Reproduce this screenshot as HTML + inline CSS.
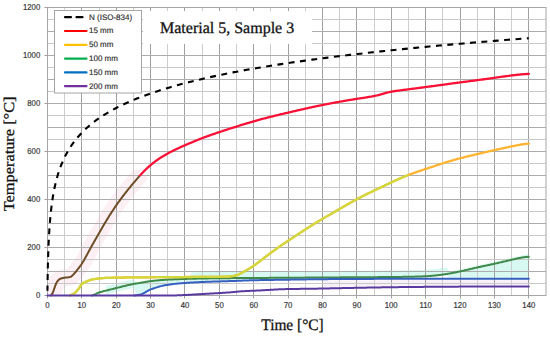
<!DOCTYPE html>
<html><head><meta charset="utf-8"><style>
html,body{margin:0;padding:0;background:#fff;width:550px;height:337px;overflow:hidden}
svg{display:block}
text{text-rendering:geometricPrecision}
.tl text{font-family:"Liberation Sans",sans-serif;font-size:8.6px;fill:#3a3a3a;stroke:#3a3a3a;stroke-width:0.2px}
.lg text{font-family:"Liberation Sans",sans-serif;font-size:8px;fill:#2a2a2a;stroke:#2a2a2a;stroke-width:0.15px}
.ttl{font-family:"Liberation Serif",serif;fill:#111;stroke:#111;stroke-width:0.3px}
</style></head><body>
<svg width="550" height="337" viewBox="0 0 550 337">
<defs><clipPath id="cp"><rect x="47.5" y="170" width="100" height="125.5"/></clipPath><clipPath id="cr2"><rect x="0" y="0" width="550" height="176"/></clipPath><clipPath id="cr"><rect x="0" y="176" width="550" height="200"/></clipPath><clipPath id="cy"><rect x="0" y="0" width="408.4" height="337"/></clipPath></defs>
<rect width="550" height="337" fill="#fff"/>
<path d="M105.9,286.1 L109.3,285.3 L112.8,284.4 L116.2,283.6 L119.6,282.7 L123.1,281.8 L126.5,281.0 L130.0,280.2 L133.4,279.5 L136.8,282.4 L140.3,281.9 L143.7,281.3 L147.2,280.6 L150.6,280.1 L154.0,279.7 L157.5,279.4 L160.9,279.1 L164.3,278.9 L167.8,278.7 L171.2,278.5 L174.7,278.3 L178.1,278.2 L181.5,278.0 L185.0,277.9 L188.4,277.8 L191.8,272.2 L195.3,272.2 L198.7,272.1 L202.2,272.0 L205.6,271.9 L209.0,271.9 L212.5,271.8 L215.9,271.8 L219.4,271.7 L222.8,271.7 L226.2,271.7 L229.7,271.6 L233.1,271.6 L236.5,271.6 L240.0,271.6 L243.4,271.5 L246.9,271.5 L250.3,271.5 L253.7,271.5 L257.2,271.5 L260.6,271.4 L264.0,271.4 L267.5,271.4 L270.9,271.4 L274.4,271.3 L277.8,271.3 L281.2,271.3 L284.7,271.3 L288.1,271.2 L291.5,271.2 L295.0,271.2 L298.4,271.2 L301.9,271.1 L305.3,271.1 L308.7,271.1 L312.2,271.1 L315.6,271.0 L319.1,271.0 L322.5,271.0 L325.9,271.0 L329.4,271.0 L332.8,270.9 L336.2,270.9 L339.7,270.9 L343.1,270.9 L346.6,270.8 L350.0,270.8 L353.4,270.8 L356.9,270.8 L360.3,270.7 L363.7,270.7 L367.2,270.7 L370.6,270.7 L374.1,270.7 L377.5,270.6 L380.9,270.6 L384.4,270.6 L387.8,270.6 L391.2,270.5 L394.7,270.5 L398.1,270.4 L401.6,270.4 L405.0,270.3 L408.4,270.3 L411.9,270.2 L415.3,270.1 L418.8,270.0 L422.2,269.9 L425.6,269.8 L429.1,269.6 L432.5,269.3 L435.9,269.0 L439.4,268.6 L442.8,268.1 L446.3,267.6 L449.7,271.5 L453.1,270.9 L456.6,270.2 L460.0,269.5 L463.4,268.7 L466.9,267.9 L470.3,267.1 L473.8,266.2 L477.2,265.4 L480.6,264.7 L484.1,264.0 L487.5,263.3 L491.0,262.6 L494.4,261.8 L497.8,261.0 L501.3,260.2 L504.7,259.4 L508.1,258.5 L511.6,257.7 L515.0,257.0 L518.5,256.2 L521.9,255.4 L525.3,254.7 L528.8,253.9 L528.8,277.7 L525.3,277.7 L521.9,277.7 L518.5,277.7 L515.0,277.7 L511.6,277.7 L508.1,277.7 L504.7,277.7 L501.3,277.7 L497.8,277.7 L494.4,277.7 L491.0,277.7 L487.5,277.7 L484.1,277.7 L480.6,277.7 L477.2,277.7 L473.8,277.7 L470.3,277.7 L466.9,277.7 L463.4,277.7 L460.0,277.7 L456.6,277.7 L453.1,277.7 L449.7,277.7 L446.3,275.1 L442.8,275.6 L439.4,276.1 L435.9,276.5 L432.5,276.8 L429.1,277.1 L425.6,277.3 L422.2,277.4 L418.8,277.5 L415.3,277.6 L411.9,277.7 L408.4,277.8 L405.0,277.8 L401.6,277.9 L398.1,277.9 L394.7,278.0 L391.2,278.0 L387.8,278.1 L384.4,278.1 L380.9,278.1 L377.5,278.1 L374.1,278.2 L370.6,278.2 L367.2,278.2 L363.7,278.2 L360.3,278.2 L356.9,278.3 L353.4,278.3 L350.0,278.3 L346.6,278.3 L343.1,278.4 L339.7,278.4 L336.2,278.4 L332.8,278.4 L329.4,278.5 L325.9,278.5 L322.5,278.5 L319.1,278.5 L315.6,278.5 L312.2,278.6 L308.7,278.6 L305.3,278.6 L301.9,278.6 L298.4,278.7 L295.0,278.7 L291.5,278.7 L288.1,278.7 L284.7,278.8 L281.2,278.8 L277.8,278.8 L274.4,278.8 L270.9,278.9 L267.5,278.9 L264.0,278.9 L260.6,278.9 L257.2,279.0 L253.7,279.0 L250.3,279.4 L246.9,279.5 L243.4,279.6 L240.0,279.7 L236.5,279.8 L233.1,280.0 L229.7,280.1 L226.2,280.2 L222.8,280.3 L219.4,280.4 L215.9,280.5 L212.5,280.6 L209.0,280.7 L205.6,280.9 L202.2,281.0 L198.7,281.2 L195.3,281.3 L191.8,281.5 L188.4,281.7 L185.0,282.0 L181.5,282.2 L178.1,282.5 L174.7,282.9 L171.2,283.3 L167.8,283.8 L164.3,284.4 L160.9,285.2 L157.5,286.1 L154.0,287.3 L150.6,288.5 L147.2,290.2 L143.7,292.2 L140.3,293.5 L136.8,294.1 L133.4,288.0 L130.0,288.7 L126.5,289.5 L123.1,290.3 L119.6,291.2 L116.2,292.1 L112.8,292.9 L109.3,293.8 L105.9,294.6Z" fill="#d8f8f2" stroke="none"/>
<path d="M322.5,280.7 L329.4,280.6 L336.2,280.6 L343.1,280.5 L350.0,280.5 L356.9,280.4 L363.7,280.4 L370.6,280.4 L377.5,280.4 L384.4,280.3 L391.2,280.3 L398.1,280.3 L405.0,280.3 L411.9,280.2 L418.8,280.2 L425.6,280.2 L432.5,280.2 L439.4,280.2 L446.3,280.2 L453.1,280.2 L460.0,280.2 L466.9,280.2 L473.8,280.2 L480.6,280.2 L487.5,280.2 L494.4,280.2 L501.3,280.2 L508.1,280.2 L515.0,280.2 L521.9,280.2 L528.8,280.2 L528.8,284.9 L521.9,284.9 L515.0,284.9 L508.1,285.0 L501.3,285.0 L494.4,285.0 L487.5,285.0 L480.6,285.0 L473.8,285.1 L466.9,285.1 L460.0,285.1 L453.1,285.2 L446.3,285.2 L439.4,285.2 L432.5,285.3 L425.6,285.4 L418.8,285.4 L411.9,285.5 L405.0,285.6 L398.1,285.6 L391.2,285.7 L384.4,285.8 L377.5,285.9 L370.6,286.1 L363.7,286.2 L356.9,286.3 L350.0,286.5 L343.1,286.6 L336.2,286.7 L329.4,286.9 L322.5,287.0Z" fill="#f8f0f8" stroke="none"/>
<path d="M49.2,295.0 L50.9,295.5 L52.6,293.1 L54.3,288.3 L56.0,283.7 L57.8,280.8 L59.5,279.2 L61.2,278.4 L62.9,278.0 L64.6,277.7 L66.4,277.5 L68.1,277.3 L69.8,277.1 L71.5,276.3 L73.2,274.6 L75.0,272.8 L76.7,270.6 L78.4,268.4 L80.1,266.2 L81.8,263.8 L83.5,261.2 L85.3,258.2 L87.0,255.2 L88.7,251.8 L90.4,248.3 L92.1,245.0 L93.9,242.0 L95.6,239.0 L97.3,235.9 L99.0,232.9 L100.7,229.9 L102.5,226.9 L104.2,224.0 L105.9,221.1 L107.6,218.2 L109.3,215.4 L111.1,212.7 L112.8,209.9 L114.5,207.3 L116.2,204.8 L117.9,202.4 L119.6,200.0 L121.4,197.8 L123.1,195.6 L124.8,193.4 L126.5,191.3 L128.2,189.2 L130.0,187.3 L131.7,185.3 L133.4,183.2 L135.1,180.9 L136.8,178.7 L138.6,176.6 L140.3,174.7 L142.0,172.8" fill="none" stroke="#fdf0f5" stroke-width="17" stroke-linejoin="miter" clip-path="url(#cp)"/>
<g><line x1="64.5" y1="7.5" x2="64.5" y2="295.5" stroke="#cdcdcd" stroke-width="1"/><line x1="81.5" y1="7.5" x2="81.5" y2="295.5" stroke="#a0a0a0" stroke-width="1"/><line x1="99.5" y1="7.5" x2="99.5" y2="295.5" stroke="#cdcdcd" stroke-width="1"/><line x1="116.5" y1="7.5" x2="116.5" y2="295.5" stroke="#a0a0a0" stroke-width="1"/><line x1="133.5" y1="7.5" x2="133.5" y2="295.5" stroke="#cdcdcd" stroke-width="1"/><line x1="150.5" y1="7.5" x2="150.5" y2="295.5" stroke="#a0a0a0" stroke-width="1"/><line x1="167.5" y1="7.5" x2="167.5" y2="295.5" stroke="#cdcdcd" stroke-width="1"/><line x1="184.5" y1="7.5" x2="184.5" y2="295.5" stroke="#a0a0a0" stroke-width="1"/><line x1="202.5" y1="7.5" x2="202.5" y2="295.5" stroke="#cdcdcd" stroke-width="1"/><line x1="219.5" y1="7.5" x2="219.5" y2="295.5" stroke="#a0a0a0" stroke-width="1"/><line x1="236.5" y1="7.5" x2="236.5" y2="295.5" stroke="#cdcdcd" stroke-width="1"/><line x1="253.5" y1="7.5" x2="253.5" y2="295.5" stroke="#a0a0a0" stroke-width="1"/><line x1="270.5" y1="7.5" x2="270.5" y2="295.5" stroke="#cdcdcd" stroke-width="1"/><line x1="288.5" y1="7.5" x2="288.5" y2="295.5" stroke="#a0a0a0" stroke-width="1"/><line x1="305.5" y1="7.5" x2="305.5" y2="295.5" stroke="#cdcdcd" stroke-width="1"/><line x1="322.5" y1="7.5" x2="322.5" y2="295.5" stroke="#a0a0a0" stroke-width="1"/><line x1="339.5" y1="7.5" x2="339.5" y2="295.5" stroke="#cdcdcd" stroke-width="1"/><line x1="356.5" y1="7.5" x2="356.5" y2="295.5" stroke="#a0a0a0" stroke-width="1"/><line x1="374.5" y1="7.5" x2="374.5" y2="295.5" stroke="#cdcdcd" stroke-width="1"/><line x1="391.5" y1="7.5" x2="391.5" y2="295.5" stroke="#a0a0a0" stroke-width="1"/><line x1="408.5" y1="7.5" x2="408.5" y2="295.5" stroke="#cdcdcd" stroke-width="1"/><line x1="425.5" y1="7.5" x2="425.5" y2="295.5" stroke="#a0a0a0" stroke-width="1"/><line x1="442.5" y1="7.5" x2="442.5" y2="295.5" stroke="#cdcdcd" stroke-width="1"/><line x1="460.5" y1="7.5" x2="460.5" y2="295.5" stroke="#a0a0a0" stroke-width="1"/><line x1="477.5" y1="7.5" x2="477.5" y2="295.5" stroke="#cdcdcd" stroke-width="1"/><line x1="494.5" y1="7.5" x2="494.5" y2="295.5" stroke="#a0a0a0" stroke-width="1"/><line x1="511.5" y1="7.5" x2="511.5" y2="295.5" stroke="#cdcdcd" stroke-width="1"/><line x1="528.5" y1="7.5" x2="528.5" y2="295.5" stroke="#a0a0a0" stroke-width="1"/><line x1="47.5" y1="283.5" x2="546" y2="283.5" stroke="#c9c9c9" stroke-width="1"/><line x1="47.5" y1="271.5" x2="546" y2="271.5" stroke="#acacac" stroke-width="1"/><line x1="47.5" y1="259.5" x2="546" y2="259.5" stroke="#c9c9c9" stroke-width="1"/><line x1="47.5" y1="247.5" x2="546" y2="247.5" stroke="#acacac" stroke-width="1"/><line x1="47.5" y1="235.5" x2="546" y2="235.5" stroke="#c9c9c9" stroke-width="1"/><line x1="47.5" y1="223.5" x2="546" y2="223.5" stroke="#acacac" stroke-width="1"/><line x1="47.5" y1="211.5" x2="546" y2="211.5" stroke="#c9c9c9" stroke-width="1"/><line x1="47.5" y1="199.5" x2="546" y2="199.5" stroke="#acacac" stroke-width="1"/><line x1="47.5" y1="187.5" x2="546" y2="187.5" stroke="#c9c9c9" stroke-width="1"/><line x1="47.5" y1="175.5" x2="546" y2="175.5" stroke="#acacac" stroke-width="1"/><line x1="47.5" y1="163.5" x2="546" y2="163.5" stroke="#c9c9c9" stroke-width="1"/><line x1="47.5" y1="151.5" x2="546" y2="151.5" stroke="#acacac" stroke-width="1"/><line x1="47.5" y1="139.5" x2="546" y2="139.5" stroke="#c9c9c9" stroke-width="1"/><line x1="47.5" y1="127.5" x2="546" y2="127.5" stroke="#acacac" stroke-width="1"/><line x1="47.5" y1="115.5" x2="546" y2="115.5" stroke="#c9c9c9" stroke-width="1"/><line x1="47.5" y1="103.5" x2="546" y2="103.5" stroke="#acacac" stroke-width="1"/><line x1="47.5" y1="91.5" x2="546" y2="91.5" stroke="#c9c9c9" stroke-width="1"/><line x1="47.5" y1="79.5" x2="546" y2="79.5" stroke="#acacac" stroke-width="1"/><line x1="47.5" y1="67.5" x2="546" y2="67.5" stroke="#c9c9c9" stroke-width="1"/><line x1="47.5" y1="55.5" x2="546" y2="55.5" stroke="#acacac" stroke-width="1"/><line x1="47.5" y1="43.5" x2="546" y2="43.5" stroke="#c9c9c9" stroke-width="1"/><line x1="47.5" y1="31.5" x2="546" y2="31.5" stroke="#acacac" stroke-width="1"/><line x1="47.5" y1="19.5" x2="546" y2="19.5" stroke="#c9c9c9" stroke-width="1"/></g>
<rect x="47.5" y="7.5" width="498.5" height="288" fill="none" stroke="#a6a6a6" stroke-width="1"/>
<g><line x1="47.5" y1="295.5" x2="47.5" y2="298.5" stroke="#a0a0a0"/><line x1="81.5" y1="295.5" x2="81.5" y2="298.5" stroke="#a0a0a0"/><line x1="116.5" y1="295.5" x2="116.5" y2="298.5" stroke="#a0a0a0"/><line x1="150.5" y1="295.5" x2="150.5" y2="298.5" stroke="#a0a0a0"/><line x1="184.5" y1="295.5" x2="184.5" y2="298.5" stroke="#a0a0a0"/><line x1="219.5" y1="295.5" x2="219.5" y2="298.5" stroke="#a0a0a0"/><line x1="253.5" y1="295.5" x2="253.5" y2="298.5" stroke="#a0a0a0"/><line x1="288.5" y1="295.5" x2="288.5" y2="298.5" stroke="#a0a0a0"/><line x1="322.5" y1="295.5" x2="322.5" y2="298.5" stroke="#a0a0a0"/><line x1="356.5" y1="295.5" x2="356.5" y2="298.5" stroke="#a0a0a0"/><line x1="391.5" y1="295.5" x2="391.5" y2="298.5" stroke="#a0a0a0"/><line x1="425.5" y1="295.5" x2="425.5" y2="298.5" stroke="#a0a0a0"/><line x1="460.5" y1="295.5" x2="460.5" y2="298.5" stroke="#a0a0a0"/><line x1="494.5" y1="295.5" x2="494.5" y2="298.5" stroke="#a0a0a0"/><line x1="528.5" y1="295.5" x2="528.5" y2="298.5" stroke="#a0a0a0"/><line x1="44.5" y1="295.5" x2="47.5" y2="295.5" stroke="#a0a0a0"/><line x1="44.5" y1="247.5" x2="47.5" y2="247.5" stroke="#a0a0a0"/><line x1="44.5" y1="199.5" x2="47.5" y2="199.5" stroke="#a0a0a0"/><line x1="44.5" y1="151.5" x2="47.5" y2="151.5" stroke="#a0a0a0"/><line x1="44.5" y1="103.5" x2="47.5" y2="103.5" stroke="#a0a0a0"/><line x1="44.5" y1="55.5" x2="47.5" y2="55.5" stroke="#a0a0a0"/><line x1="44.5" y1="7.5" x2="47.5" y2="7.5" stroke="#a0a0a0"/></g>
<g class="tl"><text transform="translate(47.5,308.4) scale(0.9,1)" text-anchor="middle">0</text><text transform="translate(81.8,308.4) scale(0.9,1)" text-anchor="middle">10</text><text transform="translate(116.2,308.4) scale(0.9,1)" text-anchor="middle">20</text><text transform="translate(150.6,308.4) scale(0.9,1)" text-anchor="middle">30</text><text transform="translate(185.0,308.4) scale(0.9,1)" text-anchor="middle">40</text><text transform="translate(219.4,308.4) scale(0.9,1)" text-anchor="middle">50</text><text transform="translate(253.7,308.4) scale(0.9,1)" text-anchor="middle">60</text><text transform="translate(288.1,308.4) scale(0.9,1)" text-anchor="middle">70</text><text transform="translate(322.5,308.4) scale(0.9,1)" text-anchor="middle">80</text><text transform="translate(356.9,308.4) scale(0.9,1)" text-anchor="middle">90</text><text transform="translate(391.2,308.4) scale(0.9,1)" text-anchor="middle">100</text><text transform="translate(425.6,308.4) scale(0.9,1)" text-anchor="middle">110</text><text transform="translate(460.0,308.4) scale(0.9,1)" text-anchor="middle">120</text><text transform="translate(494.4,308.4) scale(0.9,1)" text-anchor="middle">130</text><text transform="translate(528.8,308.4) scale(0.9,1)" text-anchor="middle">140</text><text transform="translate(40.2,297.9) scale(0.9,1)" text-anchor="end">0</text><text transform="translate(40.2,249.9) scale(0.9,1)" text-anchor="end">200</text><text transform="translate(40.2,201.9) scale(0.9,1)" text-anchor="end">400</text><text transform="translate(40.2,153.9) scale(0.9,1)" text-anchor="end">600</text><text transform="translate(40.2,105.9) scale(0.9,1)" text-anchor="end">800</text><text transform="translate(40.2,57.9) scale(0.9,1)" text-anchor="end">1000</text><text transform="translate(40.2,9.9) scale(0.9,1)" text-anchor="end">1200</text></g>
<g fill="none" stroke-linecap="round" stroke-linejoin="round">
<path d="M92.14,295.50 L93.00,295.14 L93.86,294.79 L94.72,294.43 L95.58,294.06 L96.44,293.65 L97.30,293.22 L98.16,292.82 L99.02,292.50 L99.88,292.22 L100.74,291.96 L101.60,291.71 L102.46,291.52 L103.32,291.29 L104.18,291.07 L105.04,290.86 L105.90,290.64 L106.76,290.43 L107.62,290.21 L108.47,290.00 L109.33,289.78 L110.19,289.56 L111.05,289.35 L111.91,289.13 L112.77,288.92 L113.63,288.70 L114.49,288.49 L115.35,288.27 L116.21,288.06 L117.07,287.84 L117.93,287.62 L118.79,287.40 L119.65,287.19 L120.51,286.97 L121.37,286.75 L122.23,286.54 L123.09,286.32 L123.95,286.11 L124.81,285.91 L125.66,285.70 L126.52,285.50 L127.38,285.29 L128.24,285.09 L129.10,284.90 L129.96,284.71 L130.82,284.52 L131.68,284.34 L132.54,284.17 L133.40,284.00 L134.26,283.84 L135.12,283.69 L135.98,283.55 L136.84,283.41 L137.70,283.27 L138.56,283.13 L139.42,283.00 L140.28,282.86 L141.14,282.72 L142.00,282.58 L142.85,282.43 L143.71,282.28 L144.57,282.13 L145.43,281.97 L146.29,281.81 L147.15,281.66 L148.01,281.51 L148.87,281.38 L149.73,281.25 L150.59,281.13 L151.45,281.02 L152.31,280.92 L153.17,280.82 L154.03,280.73 L154.89,280.64 L155.75,280.56 L156.61,280.48 L157.47,280.40 L158.33,280.33 L159.19,280.25 L160.04,280.18 L160.90,280.12 L161.76,280.05 L162.62,279.99 L163.48,279.93 L164.34,279.87 L165.20,279.82 L166.06,279.77 L166.92,279.71 L167.78,279.66 L168.64,279.62 L169.50,279.57 L170.36,279.53 L171.22,279.48 L172.08,279.44 L172.94,279.40 L173.80,279.36 L174.66,279.32 L175.52,279.28 L176.38,279.25 L177.23,279.21 L178.09,279.18 L178.95,279.14 L179.81,279.11 L180.67,279.08 L181.53,279.05 L182.39,279.02 L183.25,278.99 L184.11,278.97 L184.97,278.95 L185.83,278.93 L186.69,278.90 L187.55,278.87 L188.41,278.85 L189.27,278.83 L190.13,278.80 L190.99,278.78 L191.85,278.75 L192.71,278.73 L193.56,278.71 L194.42,278.69 L195.28,278.67 L196.14,278.65 L197.00,278.62 L197.86,278.60 L198.72,278.58 L199.58,278.56 L200.44,278.54 L201.30,278.53 L202.16,278.51 L203.02,278.49 L203.88,278.47 L204.74,278.45 L205.60,278.44 L206.46,278.42 L207.32,278.40 L208.18,278.39 L209.04,278.37 L209.90,278.36 L210.75,278.34 L211.61,278.33 L212.47,278.32 L213.33,278.30 L214.19,278.29 L215.05,278.28 L215.91,278.27 L216.77,278.26 L217.63,278.25 L218.49,278.24 L219.35,278.23 L220.21,278.22 L221.07,278.21 L221.93,278.20 L222.79,278.19 L223.65,278.18 L224.51,278.18 L225.37,278.17 L226.23,278.16 L227.09,278.15 L227.94,278.15 L228.80,278.14 L229.66,278.13 L230.52,278.13 L231.38,278.12 L232.24,278.11 L233.10,278.11 L233.96,278.10 L234.82,278.10 L235.68,278.09 L236.54,278.09 L237.40,278.08 L238.26,278.08 L239.12,278.07 L239.98,278.07 L240.84,278.06 L241.70,278.05 L242.56,278.05 L243.42,278.04 L244.28,278.04 L245.13,278.03 L245.99,278.03 L246.85,278.02 L247.71,278.02 L248.57,278.01 L249.43,278.01 L250.29,278.00 L251.15,278.00 L252.01,277.99 L252.87,277.98 L253.73,277.98 L254.59,277.97 L255.45,277.97 L256.31,277.96 L257.17,277.96 L258.03,277.95 L258.89,277.94 L259.75,277.94 L260.61,277.93 L261.47,277.93 L262.32,277.92 L263.18,277.91 L264.04,277.91 L264.90,277.90 L265.76,277.90 L266.62,277.89 L267.48,277.88 L268.34,277.88 L269.20,277.87 L270.06,277.87 L270.92,277.86 L271.78,277.85 L272.64,277.85 L273.50,277.84 L274.36,277.84 L275.22,277.83 L276.08,277.82 L276.94,277.82 L277.80,277.81 L278.66,277.81 L279.51,277.80 L280.37,277.79 L281.23,277.79 L282.09,277.78 L282.95,277.78 L283.81,277.77 L284.67,277.76 L285.53,277.76 L286.39,277.75 L287.25,277.75 L288.11,277.74 L288.97,277.73 L289.83,277.73 L290.69,277.72 L291.55,277.72 L292.41,277.71 L293.27,277.70 L294.13,277.70 L294.99,277.69 L295.85,277.69 L296.71,277.68 L297.56,277.67 L298.42,277.67 L299.28,277.66 L300.14,277.66 L301.00,277.65 L301.86,277.64 L302.72,277.64 L303.58,277.63 L304.44,277.63 L305.30,277.62 L306.16,277.61 L307.02,277.61 L307.88,277.60 L308.74,277.60 L309.60,277.59 L310.46,277.58 L311.32,277.58 L312.18,277.57 L313.04,277.57 L313.89,277.56 L314.75,277.55 L315.61,277.55 L316.47,277.54 L317.33,277.54 L318.19,277.53 L319.05,277.52 L319.91,277.52 L320.77,277.51 L321.63,277.51 L322.49,277.50 L323.35,277.49 L324.21,277.49 L325.07,277.48 L325.93,277.48 L326.79,277.47 L327.65,277.46 L328.51,277.46 L329.37,277.45 L330.23,277.45 L331.08,277.44 L331.94,277.43 L332.80,277.43 L333.66,277.42 L334.52,277.42 L335.38,277.41 L336.24,277.40 L337.10,277.40 L337.96,277.39 L338.82,277.39 L339.68,277.38 L340.54,277.37 L341.40,277.37 L342.26,277.36 L343.12,277.36 L343.98,277.35 L344.84,277.34 L345.70,277.34 L346.56,277.33 L347.42,277.33 L348.27,277.32 L349.13,277.31 L349.99,277.31 L350.85,277.30 L351.71,277.30 L352.57,277.29 L353.43,277.28 L354.29,277.28 L355.15,277.27 L356.01,277.27 L356.87,277.26 L357.73,277.25 L358.59,277.25 L359.45,277.24 L360.31,277.24 L361.17,277.23 L362.03,277.23 L362.89,277.22 L363.75,277.22 L364.61,277.21 L365.47,277.20 L366.32,277.20 L367.18,277.19 L368.04,277.19 L368.90,277.18 L369.76,277.18 L370.62,277.17 L371.48,277.17 L372.34,277.16 L373.20,277.16 L374.06,277.15 L374.92,277.14 L375.78,277.14 L376.64,277.13 L377.50,277.13 L378.36,277.12 L379.22,277.12 L380.08,277.11 L380.94,277.10 L381.80,277.10 L382.66,277.09 L383.51,277.08 L384.37,277.08 L385.23,277.07 L386.09,277.06 L386.95,277.06 L387.81,277.05 L388.67,277.04 L389.53,277.03 L390.39,277.02 L391.25,277.02 L392.11,277.01 L392.97,277.00 L393.83,276.99 L394.69,276.98 L395.55,276.97 L396.41,276.96 L397.27,276.95 L398.13,276.94 L398.99,276.92 L399.85,276.91 L400.70,276.90 L401.56,276.89 L402.42,276.87 L403.28,276.86 L404.14,276.85 L405.00,276.83 L405.86,276.82 L406.72,276.80 L407.58,276.79 L408.44,276.77 L409.30,276.76 L410.16,276.74 L411.02,276.72 L411.88,276.70 L412.74,276.68 L413.60,276.66 L414.46,276.64 L415.32,276.62 L416.18,276.60 L417.04,276.57 L417.89,276.55 L418.75,276.52 L419.61,276.49 L420.47,276.46 L421.33,276.43 L422.19,276.40 L423.05,276.36 L423.91,276.32 L424.77,276.28 L425.63,276.23 L426.49,276.19 L427.35,276.13 L428.21,276.08 L429.07,276.02 L429.93,275.95 L430.79,275.89 L431.65,275.81 L432.51,275.74 L433.37,275.66 L434.23,275.58 L435.08,275.49 L435.94,275.40 L436.80,275.31 L437.66,275.21 L438.52,275.11 L439.38,275.00 L440.24,274.90 L441.10,274.79 L441.96,274.67 L442.82,274.55 L443.68,274.43 L444.54,274.31 L445.40,274.18 L446.26,274.05 L447.12,273.91 L447.98,273.77 L448.84,273.63 L449.70,273.48 L450.56,273.32 L451.42,273.17 L452.27,273.01 L453.13,272.85 L453.99,272.68 L454.85,272.52 L455.71,272.34 L456.57,272.17 L457.43,272.00 L458.29,271.82 L459.15,271.64 L460.01,271.45 L460.87,271.26 L461.73,271.08 L462.59,270.88 L463.45,270.69 L464.31,270.49 L465.17,270.29 L466.03,270.09 L466.89,269.89 L467.75,269.69 L468.61,269.48 L469.46,269.28 L470.32,269.07 L471.18,268.87 L472.04,268.67 L472.90,268.46 L473.76,268.26 L474.62,268.06 L475.48,267.86 L476.34,267.67 L477.20,267.47 L478.06,267.28 L478.92,267.09 L479.78,266.90 L480.64,266.71 L481.50,266.53 L482.36,266.34 L483.22,266.16 L484.08,265.98 L484.94,265.80 L485.80,265.62 L486.65,265.44 L487.51,265.26 L488.37,265.08 L489.23,264.90 L490.09,264.71 L490.95,264.53 L491.81,264.35 L492.67,264.16 L493.53,263.97 L494.39,263.78 L495.25,263.59 L496.11,263.39 L496.97,263.20 L497.83,263.00 L498.69,262.80 L499.55,262.60 L500.41,262.40 L501.27,262.20 L502.13,261.99 L502.99,261.79 L503.84,261.59 L504.70,261.38 L505.56,261.18 L506.42,260.97 L507.28,260.77 L508.14,260.57 L509.00,260.36 L509.86,260.16 L510.72,259.96 L511.58,259.76 L512.44,259.56 L513.30,259.37 L514.16,259.17 L515.02,258.98 L515.88,258.79 L516.74,258.60 L517.60,258.42 L518.46,258.24 L519.32,258.07 L520.18,257.91 L521.03,257.75 L521.89,257.61 L522.75,257.47 L523.61,257.34 L524.47,257.22 L525.33,257.10 L526.19,257.00 L527.05,256.91 L527.91,256.83 L528.77,256.75" stroke="#3f8a4a" stroke-width="2"/>
<path d="M134.43,295.50 L135.29,295.37 L136.15,295.24 L137.01,295.12 L137.87,294.99 L138.73,294.85 L139.59,294.69 L140.45,294.50 L141.31,294.24 L142.17,293.90 L143.03,293.51 L143.89,293.06 L144.75,292.59 L145.60,292.09 L146.46,291.59 L147.32,291.09 L148.18,290.61 L149.04,290.17 L149.90,289.77 L150.76,289.44 L151.62,289.12 L152.48,288.81 L153.34,288.51 L154.20,288.21 L155.06,287.92 L155.92,287.64 L156.78,287.36 L157.64,287.09 L158.50,286.83 L159.36,286.58 L160.22,286.35 L161.08,286.12 L161.94,285.90 L162.79,285.70 L163.65,285.51 L164.51,285.34 L165.37,285.18 L166.23,285.03 L167.09,284.90 L167.95,284.76 L168.81,284.64 L169.67,284.52 L170.53,284.40 L171.39,284.29 L172.25,284.18 L173.11,284.07 L173.97,283.97 L174.83,283.88 L175.69,283.78 L176.55,283.69 L177.41,283.61 L178.27,283.53 L179.13,283.45 L179.98,283.37 L180.84,283.29 L181.70,283.22 L182.56,283.15 L183.42,283.09 L184.28,283.02 L185.14,282.96 L186.00,282.89 L186.86,282.83 L187.72,282.78 L188.58,282.72 L189.44,282.66 L190.30,282.61 L191.16,282.56 L192.02,282.51 L192.88,282.46 L193.74,282.41 L194.60,282.36 L195.46,282.32 L196.32,282.27 L197.17,282.23 L198.03,282.19 L198.89,282.15 L199.75,282.11 L200.61,282.07 L201.47,282.03 L202.33,281.99 L203.19,281.95 L204.05,281.92 L204.91,281.88 L205.77,281.85 L206.63,281.82 L207.49,281.79 L208.35,281.76 L209.21,281.73 L210.07,281.70 L210.93,281.67 L211.79,281.64 L212.65,281.61 L213.51,281.59 L214.36,281.56 L215.22,281.53 L216.08,281.51 L216.94,281.48 L217.80,281.46 L218.66,281.43 L219.52,281.41 L220.38,281.38 L221.24,281.36 L222.10,281.33 L222.96,281.31 L223.82,281.28 L224.68,281.26 L225.54,281.23 L226.40,281.21 L227.26,281.18 L228.12,281.15 L228.98,281.12 L229.84,281.09 L230.70,281.06 L231.55,281.03 L232.41,281.00 L233.27,280.97 L234.13,280.94 L234.99,280.91 L235.85,280.88 L236.71,280.84 L237.57,280.81 L238.43,280.78 L239.29,280.74 L240.15,280.71 L241.01,280.68 L241.87,280.64 L242.73,280.61 L243.59,280.58 L244.45,280.55 L245.31,280.52 L246.17,280.49 L247.03,280.46 L247.89,280.43 L248.74,280.40 L249.60,280.37 L250.46,280.35 L251.32,280.32 L252.18,280.30 L253.04,280.28 L253.90,280.26 L254.76,280.24 L255.62,280.22 L256.48,280.20 L257.34,280.18 L258.20,280.16 L259.06,280.14 L259.92,280.12 L260.78,280.11 L261.64,280.09 L262.50,280.07 L263.36,280.06 L264.22,280.04 L265.08,280.03 L265.93,280.01 L266.79,279.99 L267.65,279.98 L268.51,279.96 L269.37,279.95 L270.23,279.94 L271.09,279.92 L271.95,279.91 L272.81,279.89 L273.67,279.88 L274.53,279.87 L275.39,279.85 L276.25,279.84 L277.11,279.83 L277.97,279.81 L278.83,279.80 L279.69,279.79 L280.55,279.77 L281.41,279.76 L282.27,279.75 L283.12,279.74 L283.98,279.72 L284.84,279.71 L285.70,279.70 L286.56,279.68 L287.42,279.67 L288.28,279.66 L289.14,279.64 L290.00,279.63 L290.86,279.62 L291.72,279.60 L292.58,279.59 L293.44,279.58 L294.30,279.56 L295.16,279.55 L296.02,279.54 L296.88,279.52 L297.74,279.51 L298.60,279.50 L299.46,279.48 L300.31,279.47 L301.17,279.46 L302.03,279.44 L302.89,279.43 L303.75,279.42 L304.61,279.40 L305.47,279.39 L306.33,279.38 L307.19,279.37 L308.05,279.35 L308.91,279.34 L309.77,279.33 L310.63,279.32 L311.49,279.31 L312.35,279.29 L313.21,279.28 L314.07,279.27 L314.93,279.26 L315.79,279.25 L316.65,279.24 L317.50,279.23 L318.36,279.22 L319.22,279.21 L320.08,279.20 L320.94,279.19 L321.80,279.19 L322.66,279.18 L323.52,279.17 L324.38,279.16 L325.24,279.15 L326.10,279.15 L326.96,279.14 L327.82,279.13 L328.68,279.12 L329.54,279.12 L330.40,279.11 L331.26,279.10 L332.12,279.10 L332.98,279.09 L333.84,279.08 L334.69,279.08 L335.55,279.07 L336.41,279.06 L337.27,279.06 L338.13,279.05 L338.99,279.04 L339.85,279.04 L340.71,279.03 L341.57,279.03 L342.43,279.02 L343.29,279.02 L344.15,279.01 L345.01,279.00 L345.87,279.00 L346.73,278.99 L347.59,278.99 L348.45,278.98 L349.31,278.98 L350.17,278.97 L351.03,278.97 L351.88,278.96 L352.74,278.96 L353.60,278.96 L354.46,278.95 L355.32,278.95 L356.18,278.94 L357.04,278.94 L357.90,278.94 L358.76,278.93 L359.62,278.93 L360.48,278.92 L361.34,278.92 L362.20,278.92 L363.06,278.91 L363.92,278.91 L364.78,278.91 L365.64,278.90 L366.50,278.90 L367.36,278.90 L368.22,278.89 L369.07,278.89 L369.93,278.89 L370.79,278.89 L371.65,278.88 L372.51,278.88 L373.37,278.88 L374.23,278.87 L375.09,278.87 L375.95,278.87 L376.81,278.87 L377.67,278.86 L378.53,278.86 L379.39,278.86 L380.25,278.86 L381.11,278.85 L381.97,278.85 L382.83,278.85 L383.69,278.84 L384.55,278.84 L385.41,278.84 L386.26,278.84 L387.12,278.83 L387.98,278.83 L388.84,278.83 L389.70,278.83 L390.56,278.82 L391.42,278.82 L392.28,278.82 L393.14,278.81 L394.00,278.81 L394.86,278.81 L395.72,278.80 L396.58,278.80 L397.44,278.80 L398.30,278.79 L399.16,278.79 L400.02,278.78 L400.88,278.78 L401.74,278.78 L402.60,278.77 L403.45,278.77 L404.31,278.76 L405.17,278.76 L406.03,278.76 L406.89,278.75 L407.75,278.75 L408.61,278.74 L409.47,278.74 L410.33,278.74 L411.19,278.73 L412.05,278.73 L412.91,278.73 L413.77,278.72 L414.63,278.72 L415.49,278.72 L416.35,278.72 L417.21,278.71 L418.07,278.71 L418.93,278.71 L419.79,278.71 L420.64,278.70 L421.50,278.70 L422.36,278.70 L423.22,278.70 L424.08,278.70 L424.94,278.70 L425.80,278.70 L426.66,278.70 L427.52,278.70 L428.38,278.70 L429.24,278.70 L430.10,278.70 L430.96,278.70 L431.82,278.70 L432.68,278.70 L433.54,278.70 L434.40,278.70 L435.26,278.70 L436.12,278.70 L436.98,278.70 L437.83,278.70 L438.69,278.70 L439.55,278.70 L440.41,278.70 L441.27,278.70 L442.13,278.70 L442.99,278.70 L443.85,278.70 L444.71,278.70 L445.57,278.70 L446.43,278.70 L447.29,278.70 L448.15,278.70 L449.01,278.70 L449.87,278.70 L450.73,278.70 L451.59,278.70 L452.45,278.70 L453.31,278.70 L454.17,278.70 L455.02,278.70 L455.88,278.70 L456.74,278.70 L457.60,278.70 L458.46,278.70 L459.32,278.70 L460.18,278.70 L461.04,278.70 L461.90,278.70 L462.76,278.70 L463.62,278.70 L464.48,278.70 L465.34,278.70 L466.20,278.70 L467.06,278.70 L467.92,278.70 L468.78,278.70 L469.64,278.70 L470.50,278.70 L471.36,278.70 L472.21,278.70 L473.07,278.70 L473.93,278.70 L474.79,278.70 L475.65,278.70 L476.51,278.70 L477.37,278.70 L478.23,278.70 L479.09,278.70 L479.95,278.70 L480.81,278.70 L481.67,278.70 L482.53,278.70 L483.39,278.70 L484.25,278.70 L485.11,278.70 L485.97,278.70 L486.83,278.70 L487.69,278.70 L488.55,278.70 L489.40,278.70 L490.26,278.70 L491.12,278.70 L491.98,278.70 L492.84,278.70 L493.70,278.70 L494.56,278.70 L495.42,278.70 L496.28,278.70 L497.14,278.70 L498.00,278.70 L498.86,278.70 L499.72,278.70 L500.58,278.70 L501.44,278.70 L502.30,278.70 L503.16,278.70 L504.02,278.70 L504.88,278.70 L505.74,278.70 L506.59,278.70 L507.45,278.70 L508.31,278.70 L509.17,278.70 L510.03,278.70 L510.89,278.70 L511.75,278.70 L512.61,278.70 L513.47,278.70 L514.33,278.70 L515.19,278.70 L516.05,278.70 L516.91,278.70 L517.77,278.70 L518.63,278.70 L519.49,278.70 L520.35,278.70 L521.21,278.70 L522.07,278.70 L522.93,278.70 L523.78,278.70 L524.64,278.70 L525.50,278.70 L526.36,278.70 L527.22,278.70 L528.08,278.70 L528.77,278.70" stroke="#3460c0" stroke-width="2"/>
<path d="M70.14,295.50 L71.00,295.05 L71.86,294.64 L72.72,294.21 L73.58,293.76 L74.44,293.23 L75.30,292.58 L76.16,291.74 L77.02,290.74 L77.88,289.67 L78.74,288.57 L79.60,287.27 L80.45,285.93 L81.31,284.75 L82.17,283.93 L83.03,283.31 L83.89,282.79 L84.75,282.32 L85.61,281.89 L86.47,281.49 L87.33,281.13 L88.19,280.80 L89.05,280.48 L89.91,280.18 L90.77,279.90 L91.63,279.66 L92.49,279.47 L93.35,279.29 L94.21,279.13 L95.07,278.99 L95.93,278.89 L96.79,278.76 L97.64,278.65 L98.50,278.54 L99.36,278.44 L100.22,278.35 L101.08,278.27 L101.94,278.20 L102.80,278.13 L103.66,278.07 L104.52,278.02 L105.38,277.97 L106.24,277.93 L107.10,277.90 L107.96,277.87 L108.82,277.84 L109.68,277.81 L110.54,277.79 L111.40,277.76 L112.26,277.74 L113.12,277.71 L113.98,277.69 L114.83,277.67 L115.69,277.66 L116.55,277.64 L117.41,277.62 L118.27,277.60 L119.13,277.59 L119.99,277.57 L120.85,277.56 L121.71,277.55 L122.57,277.53 L123.43,277.52 L124.29,277.51 L125.15,277.50 L126.01,277.49 L126.87,277.47 L127.73,277.46 L128.59,277.45 L129.45,277.44 L130.31,277.43 L131.17,277.42 L132.02,277.42 L132.88,277.41 L133.74,277.40 L134.60,277.39 L135.46,277.38 L136.32,277.37 L137.18,277.37 L138.04,277.36 L138.90,277.35 L139.76,277.34 L140.62,277.34 L141.48,277.33 L142.34,277.32 L143.20,277.32 L144.06,277.31 L144.92,277.30 L145.78,277.30 L146.64,277.29 L147.50,277.28 L148.36,277.28 L149.21,277.27 L150.07,277.26 L150.93,277.26 L151.79,277.25 L152.65,277.24 L153.51,277.24 L154.37,277.23 L155.23,277.22 L156.09,277.22 L156.95,277.21 L157.81,277.21 L158.67,277.20 L159.53,277.19 L160.39,277.19 L161.25,277.18 L162.11,277.17 L162.97,277.17 L163.83,277.16 L164.69,277.16 L165.55,277.15 L166.40,277.14 L167.26,277.14 L168.12,277.13 L168.98,277.13 L169.84,277.12 L170.70,277.12 L171.56,277.11 L172.42,277.10 L173.28,277.10 L174.14,277.09 L175.00,277.09 L175.86,277.08 L176.72,277.08 L177.58,277.07 L178.44,277.06 L179.30,277.06 L180.16,277.05 L181.02,277.05 L181.88,277.04 L182.74,277.04 L183.59,277.03 L184.45,277.02 L185.31,277.02 L186.17,277.01 L187.03,277.01 L187.89,277.00 L188.75,277.00 L189.61,276.99 L190.47,276.99 L191.33,276.98 L192.19,276.98 L193.05,276.97 L193.91,276.97 L194.77,276.96 L195.63,276.96 L196.49,276.96 L197.35,276.95 L198.21,276.95 L199.07,276.94 L199.93,276.94 L200.78,276.93 L201.64,276.93 L202.50,276.92 L203.36,276.92 L204.22,276.91 L205.08,276.91 L205.94,276.90 L206.80,276.90 L207.66,276.89 L208.52,276.89 L209.38,276.88 L210.24,276.87 L211.10,276.87 L211.96,276.86 L212.82,276.85 L213.68,276.84 L214.54,276.83 L215.40,276.83 L216.26,276.82 L217.12,276.81 L217.97,276.80 L218.83,276.78 L219.69,276.77 L220.55,276.75 L221.41,276.74 L222.27,276.72 L223.13,276.69 L223.99,276.67 L224.85,276.64 L225.71,276.61 L226.57,276.57 L227.43,276.53 L228.29,276.48 L229.15,276.42 L230.01,276.35 L230.87,276.27 L231.73,276.17 L232.59,276.06 L233.45,275.92 L234.31,275.76 L235.16,275.57 L236.02,275.36 L236.88,275.10 L237.74,274.80 L238.60,274.45 L239.46,274.06 L240.32,273.63 L241.18,273.18 L242.04,272.71 L242.90,272.24 L243.76,271.76 L244.62,271.29 L245.48,270.81 L246.34,270.33 L247.20,269.84 L248.06,269.34 L248.92,268.83 L249.78,268.31 L250.64,267.77 L251.50,267.22 L252.35,266.65 L253.21,266.06 L254.07,265.46 L254.93,264.85 L255.79,264.23 L256.65,263.59 L257.51,262.95 L258.37,262.30 L259.23,261.65 L260.09,261.01 L260.95,260.36 L261.81,259.71 L262.67,259.06 L263.53,258.40 L264.39,257.74 L265.25,257.08 L266.11,256.42 L266.97,255.76 L267.83,255.11 L268.69,254.46 L269.54,253.81 L270.40,253.16 L271.26,252.52 L272.12,251.89 L272.98,251.26 L273.84,250.63 L274.70,250.01 L275.56,249.40 L276.42,248.79 L277.28,248.18 L278.14,247.58 L279.00,246.98 L279.86,246.39 L280.72,245.79 L281.58,245.21 L282.44,244.62 L283.30,244.04 L284.16,243.46 L285.02,242.88 L285.88,242.30 L286.73,241.72 L287.59,241.15 L288.45,240.57 L289.31,240.00 L290.17,239.43 L291.03,238.86 L291.89,238.29 L292.75,237.72 L293.61,237.15 L294.47,236.58 L295.33,236.02 L296.19,235.45 L297.05,234.89 L297.91,234.33 L298.77,233.76 L299.63,233.20 L300.49,232.64 L301.35,232.08 L302.21,231.53 L303.07,230.97 L303.92,230.41 L304.78,229.86 L305.64,229.30 L306.50,228.75 L307.36,228.20 L308.22,227.65 L309.08,227.10 L309.94,226.56 L310.80,226.01 L311.66,225.47 L312.52,224.92 L313.38,224.38 L314.24,223.85 L315.10,223.31 L315.96,222.78 L316.82,222.25 L317.68,221.72 L318.54,221.20 L319.40,220.68 L320.26,220.16 L321.11,219.65 L321.97,219.13 L322.83,218.63 L323.69,218.12 L324.55,217.62 L325.41,217.12 L326.27,216.62 L327.13,216.13 L327.99,215.64 L328.85,215.15 L329.71,214.66 L330.57,214.17 L331.43,213.69 L332.29,213.20 L333.15,212.72 L334.01,212.23 L334.87,211.75 L335.73,211.26 L336.59,210.77 L337.45,210.28 L338.30,209.79 L339.16,209.30 L340.02,208.81 L340.88,208.31 L341.74,207.82 L342.60,207.32 L343.46,206.82 L344.32,206.32 L345.18,205.82 L346.04,205.32 L346.90,204.82 L347.76,204.33 L348.62,203.83 L349.48,203.33 L350.34,202.84 L351.20,202.35 L352.06,201.86 L352.92,201.38 L353.78,200.90 L354.64,200.42 L355.49,199.95 L356.35,199.48 L357.21,199.02 L358.07,198.56 L358.93,198.11 L359.79,197.66 L360.65,197.21 L361.51,196.77 L362.37,196.33 L363.23,195.90 L364.09,195.47 L364.95,195.04 L365.81,194.61 L366.67,194.19 L367.53,193.77 L368.39,193.35 L369.25,192.93 L370.11,192.52 L370.97,192.10 L371.83,191.69 L372.68,191.28 L373.54,190.86 L374.40,190.45 L375.26,190.04 L376.12,189.63 L376.98,189.22 L377.84,188.81 L378.70,188.40 L379.56,187.99 L380.42,187.58 L381.28,187.17 L382.14,186.76 L383.00,186.35 L383.86,185.95 L384.72,185.54 L385.58,185.14 L386.44,184.73 L387.30,184.33 L388.16,183.92 L389.02,183.52 L389.87,183.12 L390.73,182.72 L391.59,182.32 L392.45,181.92 L393.31,181.52 L394.17,181.12 L395.03,180.73 L395.89,180.34 L396.75,179.94 L397.61,179.56 L398.47,179.17 L399.33,178.79 L400.19,178.41 L401.05,178.03 L401.91,177.66 L402.77,177.29 L403.63,176.93 L404.49,176.57 L405.35,176.21 L406.21,175.87 L407.06,175.52 L407.92,175.18 L408.78,174.85 L409.64,174.52 L410.50,174.19 L411.36,173.87 L412.22,173.56 L413.08,173.25 L413.94,172.94 L414.80,172.64 L415.66,172.34 L416.52,172.04 L417.38,171.75 L418.24,171.46 L419.10,171.16 L419.96,170.88 L420.82,170.59 L421.68,170.30 L422.54,170.01 L423.40,169.73 L424.25,169.44 L425.11,169.16 L425.97,168.87 L426.83,168.58 L427.69,168.30 L428.55,168.01 L429.41,167.72 L430.27,167.44 L431.13,167.15 L431.99,166.86 L432.85,166.58 L433.71,166.29 L434.57,166.00 L435.43,165.72 L436.29,165.44 L437.15,165.15 L438.01,164.87 L438.87,164.59 L439.73,164.31 L440.59,164.03 L441.44,163.76 L442.30,163.49 L443.16,163.21 L444.02,162.94 L444.88,162.67 L445.74,162.41 L446.60,162.14 L447.46,161.88 L448.32,161.62 L449.18,161.36 L450.04,161.11 L450.90,160.85 L451.76,160.60 L452.62,160.35 L453.48,160.11 L454.34,159.86 L455.20,159.62 L456.06,159.38 L456.92,159.14 L457.78,158.91 L458.63,158.68 L459.49,158.45 L460.35,158.22 L461.21,158.00 L462.07,157.78 L462.93,157.56 L463.79,157.34 L464.65,157.13 L465.51,156.91 L466.37,156.70 L467.23,156.49 L468.09,156.28 L468.95,156.08 L469.81,155.87 L470.67,155.67 L471.53,155.46 L472.39,155.26 L473.25,155.05 L474.11,154.85 L474.97,154.65 L475.82,154.44 L476.68,154.24 L477.54,154.04 L478.40,153.83 L479.26,153.63 L480.12,153.43 L480.98,153.22 L481.84,153.02 L482.70,152.82 L483.56,152.61 L484.42,152.41 L485.28,152.21 L486.14,152.01 L487.00,151.81 L487.86,151.61 L488.72,151.41 L489.58,151.21 L490.44,151.01 L491.30,150.81 L492.16,150.62 L493.01,150.43 L493.87,150.23 L494.73,150.04 L495.59,149.85 L496.45,149.66 L497.31,149.48 L498.17,149.29 L499.03,149.10 L499.89,148.92 L500.75,148.74 L501.61,148.55 L502.47,148.37 L503.33,148.19 L504.19,148.00 L505.05,147.82 L505.91,147.64 L506.77,147.45 L507.63,147.27 L508.49,147.08 L509.35,146.90 L510.20,146.71 L511.06,146.53 L511.92,146.34 L512.78,146.16 L513.64,145.98 L514.50,145.80 L515.36,145.62 L516.22,145.45 L517.08,145.28 L517.94,145.11 L518.80,144.95 L519.66,144.79 L520.52,144.65 L521.38,144.51 L522.24,144.37 L523.10,144.24 L523.96,144.12 L524.82,144.01 L525.68,143.91 L526.54,143.81 L527.39,143.71 L528.25,143.63 L528.77,143.58" stroke="#ffb431" stroke-width="2.3"/>
<path d="M70.14,295.50 L71.00,295.05 L71.86,294.64 L72.72,294.21 L73.58,293.76 L74.44,293.23 L75.30,292.58 L76.16,291.74 L77.02,290.74 L77.88,289.67 L78.74,288.57 L79.60,287.27 L80.45,285.93 L81.31,284.75 L82.17,283.93 L83.03,283.31 L83.89,282.79 L84.75,282.32 L85.61,281.89 L86.47,281.49 L87.33,281.13 L88.19,280.80 L89.05,280.48 L89.91,280.18 L90.77,279.90 L91.63,279.66 L92.49,279.47 L93.35,279.29 L94.21,279.13 L95.07,278.99 L95.93,278.89 L96.79,278.76 L97.64,278.65 L98.50,278.54 L99.36,278.44 L100.22,278.35 L101.08,278.27 L101.94,278.20 L102.80,278.13 L103.66,278.07 L104.52,278.02 L105.38,277.97 L106.24,277.93 L107.10,277.90 L107.96,277.87 L108.82,277.84 L109.68,277.81 L110.54,277.79 L111.40,277.76 L112.26,277.74 L113.12,277.71 L113.98,277.69 L114.83,277.67 L115.69,277.66 L116.55,277.64 L117.41,277.62 L118.27,277.60 L119.13,277.59 L119.99,277.57 L120.85,277.56 L121.71,277.55 L122.57,277.53 L123.43,277.52 L124.29,277.51 L125.15,277.50 L126.01,277.49 L126.87,277.47 L127.73,277.46 L128.59,277.45 L129.45,277.44 L130.31,277.43 L131.17,277.42 L132.02,277.42 L132.88,277.41 L133.74,277.40 L134.60,277.39 L135.46,277.38 L136.32,277.37 L137.18,277.37 L138.04,277.36 L138.90,277.35 L139.76,277.34 L140.62,277.34 L141.48,277.33 L142.34,277.32 L143.20,277.32 L144.06,277.31 L144.92,277.30 L145.78,277.30 L146.64,277.29 L147.50,277.28 L148.36,277.28 L149.21,277.27 L150.07,277.26 L150.93,277.26 L151.79,277.25 L152.65,277.24 L153.51,277.24 L154.37,277.23 L155.23,277.22 L156.09,277.22 L156.95,277.21 L157.81,277.21 L158.67,277.20 L159.53,277.19 L160.39,277.19 L161.25,277.18 L162.11,277.17 L162.97,277.17 L163.83,277.16 L164.69,277.16 L165.55,277.15 L166.40,277.14 L167.26,277.14 L168.12,277.13 L168.98,277.13 L169.84,277.12 L170.70,277.12 L171.56,277.11 L172.42,277.10 L173.28,277.10 L174.14,277.09 L175.00,277.09 L175.86,277.08 L176.72,277.08 L177.58,277.07 L178.44,277.06 L179.30,277.06 L180.16,277.05 L181.02,277.05 L181.88,277.04 L182.74,277.04 L183.59,277.03 L184.45,277.02 L185.31,277.02 L186.17,277.01 L187.03,277.01 L187.89,277.00 L188.75,277.00 L189.61,276.99 L190.47,276.99 L191.33,276.98 L192.19,276.98 L193.05,276.97 L193.91,276.97 L194.77,276.96 L195.63,276.96 L196.49,276.96 L197.35,276.95 L198.21,276.95 L199.07,276.94 L199.93,276.94 L200.78,276.93 L201.64,276.93 L202.50,276.92 L203.36,276.92 L204.22,276.91 L205.08,276.91 L205.94,276.90 L206.80,276.90 L207.66,276.89 L208.52,276.89 L209.38,276.88 L210.24,276.87 L211.10,276.87 L211.96,276.86 L212.82,276.85 L213.68,276.84 L214.54,276.83 L215.40,276.83 L216.26,276.82 L217.12,276.81 L217.97,276.80 L218.83,276.78 L219.69,276.77 L220.55,276.75 L221.41,276.74 L222.27,276.72 L223.13,276.69 L223.99,276.67 L224.85,276.64 L225.71,276.61 L226.57,276.57 L227.43,276.53 L228.29,276.48 L229.15,276.42 L230.01,276.35 L230.87,276.27 L231.73,276.17 L232.59,276.06 L233.45,275.92 L234.31,275.76 L235.16,275.57 L236.02,275.36 L236.88,275.10 L237.74,274.80 L238.60,274.45 L239.46,274.06 L240.32,273.63 L241.18,273.18 L242.04,272.71 L242.90,272.24 L243.76,271.76 L244.62,271.29 L245.48,270.81 L246.34,270.33 L247.20,269.84 L248.06,269.34 L248.92,268.83 L249.78,268.31 L250.64,267.77 L251.50,267.22 L252.35,266.65 L253.21,266.06 L254.07,265.46 L254.93,264.85 L255.79,264.23 L256.65,263.59 L257.51,262.95 L258.37,262.30 L259.23,261.65 L260.09,261.01 L260.95,260.36 L261.81,259.71 L262.67,259.06 L263.53,258.40 L264.39,257.74 L265.25,257.08 L266.11,256.42 L266.97,255.76 L267.83,255.11 L268.69,254.46 L269.54,253.81 L270.40,253.16 L271.26,252.52 L272.12,251.89 L272.98,251.26 L273.84,250.63 L274.70,250.01 L275.56,249.40 L276.42,248.79 L277.28,248.18 L278.14,247.58 L279.00,246.98 L279.86,246.39 L280.72,245.79 L281.58,245.21 L282.44,244.62 L283.30,244.04 L284.16,243.46 L285.02,242.88 L285.88,242.30 L286.73,241.72 L287.59,241.15 L288.45,240.57 L289.31,240.00 L290.17,239.43 L291.03,238.86 L291.89,238.29 L292.75,237.72 L293.61,237.15 L294.47,236.58 L295.33,236.02 L296.19,235.45 L297.05,234.89 L297.91,234.33 L298.77,233.76 L299.63,233.20 L300.49,232.64 L301.35,232.08 L302.21,231.53 L303.07,230.97 L303.92,230.41 L304.78,229.86 L305.64,229.30 L306.50,228.75 L307.36,228.20 L308.22,227.65 L309.08,227.10 L309.94,226.56 L310.80,226.01 L311.66,225.47 L312.52,224.92 L313.38,224.38 L314.24,223.85 L315.10,223.31 L315.96,222.78 L316.82,222.25 L317.68,221.72 L318.54,221.20 L319.40,220.68 L320.26,220.16 L321.11,219.65 L321.97,219.13 L322.83,218.63 L323.69,218.12 L324.55,217.62 L325.41,217.12 L326.27,216.62 L327.13,216.13 L327.99,215.64 L328.85,215.15 L329.71,214.66 L330.57,214.17 L331.43,213.69 L332.29,213.20 L333.15,212.72 L334.01,212.23 L334.87,211.75 L335.73,211.26 L336.59,210.77 L337.45,210.28 L338.30,209.79 L339.16,209.30 L340.02,208.81 L340.88,208.31 L341.74,207.82 L342.60,207.32 L343.46,206.82 L344.32,206.32 L345.18,205.82 L346.04,205.32 L346.90,204.82 L347.76,204.33 L348.62,203.83 L349.48,203.33 L350.34,202.84 L351.20,202.35 L352.06,201.86 L352.92,201.38 L353.78,200.90 L354.64,200.42 L355.49,199.95 L356.35,199.48 L357.21,199.02 L358.07,198.56 L358.93,198.11 L359.79,197.66 L360.65,197.21 L361.51,196.77 L362.37,196.33 L363.23,195.90 L364.09,195.47 L364.95,195.04 L365.81,194.61 L366.67,194.19 L367.53,193.77 L368.39,193.35 L369.25,192.93 L370.11,192.52 L370.97,192.10 L371.83,191.69 L372.68,191.28 L373.54,190.86 L374.40,190.45 L375.26,190.04 L376.12,189.63 L376.98,189.22 L377.84,188.81 L378.70,188.40 L379.56,187.99 L380.42,187.58 L381.28,187.17 L382.14,186.76 L383.00,186.35 L383.86,185.95 L384.72,185.54 L385.58,185.14 L386.44,184.73 L387.30,184.33 L388.16,183.92 L389.02,183.52 L389.87,183.12 L390.73,182.72 L391.59,182.32 L392.45,181.92 L393.31,181.52 L394.17,181.12 L395.03,180.73 L395.89,180.34 L396.75,179.94 L397.61,179.56 L398.47,179.17 L399.33,178.79 L400.19,178.41 L401.05,178.03 L401.91,177.66 L402.77,177.29 L403.63,176.93 L404.49,176.57 L405.35,176.21 L406.21,175.87 L407.06,175.52 L407.92,175.18 L408.78,174.85 L409.64,174.52 L410.50,174.19 L411.36,173.87 L412.22,173.56 L413.08,173.25 L413.94,172.94 L414.80,172.64 L415.66,172.34 L416.52,172.04 L417.38,171.75 L418.24,171.46 L419.10,171.16 L419.96,170.88 L420.82,170.59 L421.68,170.30 L422.54,170.01 L423.40,169.73 L424.25,169.44 L425.11,169.16 L425.97,168.87 L426.83,168.58 L427.69,168.30 L428.55,168.01 L429.41,167.72 L430.27,167.44 L431.13,167.15 L431.99,166.86 L432.85,166.58 L433.71,166.29 L434.57,166.00 L435.43,165.72 L436.29,165.44 L437.15,165.15 L438.01,164.87 L438.87,164.59 L439.73,164.31 L440.59,164.03 L441.44,163.76 L442.30,163.49 L443.16,163.21 L444.02,162.94 L444.88,162.67 L445.74,162.41 L446.60,162.14 L447.46,161.88 L448.32,161.62 L449.18,161.36 L450.04,161.11 L450.90,160.85 L451.76,160.60 L452.62,160.35 L453.48,160.11 L454.34,159.86 L455.20,159.62 L456.06,159.38 L456.92,159.14 L457.78,158.91 L458.63,158.68 L459.49,158.45 L460.35,158.22 L461.21,158.00 L462.07,157.78 L462.93,157.56 L463.79,157.34 L464.65,157.13 L465.51,156.91 L466.37,156.70 L467.23,156.49 L468.09,156.28 L468.95,156.08 L469.81,155.87 L470.67,155.67 L471.53,155.46 L472.39,155.26 L473.25,155.05 L474.11,154.85 L474.97,154.65 L475.82,154.44 L476.68,154.24 L477.54,154.04 L478.40,153.83 L479.26,153.63 L480.12,153.43 L480.98,153.22 L481.84,153.02 L482.70,152.82 L483.56,152.61 L484.42,152.41 L485.28,152.21 L486.14,152.01 L487.00,151.81 L487.86,151.61 L488.72,151.41 L489.58,151.21 L490.44,151.01 L491.30,150.81 L492.16,150.62 L493.01,150.43 L493.87,150.23 L494.73,150.04 L495.59,149.85 L496.45,149.66 L497.31,149.48 L498.17,149.29 L499.03,149.10 L499.89,148.92 L500.75,148.74 L501.61,148.55 L502.47,148.37 L503.33,148.19 L504.19,148.00 L505.05,147.82 L505.91,147.64 L506.77,147.45 L507.63,147.27 L508.49,147.08 L509.35,146.90 L510.20,146.71 L511.06,146.53 L511.92,146.34 L512.78,146.16 L513.64,145.98 L514.50,145.80 L515.36,145.62 L516.22,145.45 L517.08,145.28 L517.94,145.11 L518.80,144.95 L519.66,144.79 L520.52,144.65 L521.38,144.51 L522.24,144.37 L523.10,144.24 L523.96,144.12 L524.82,144.01 L525.68,143.91 L526.54,143.81 L527.39,143.71 L528.25,143.63 L528.77,143.58" stroke="#d0d83c" stroke-width="2.2" clip-path="url(#cy)"/>
<path d="M50.89,295.50 L51.75,294.40 L52.61,293.10 L53.47,290.87 L54.33,288.30 L55.19,285.92 L56.05,283.67 L56.90,282.03 L57.76,280.81 L58.62,279.83 L59.48,279.18 L60.34,278.76 L61.20,278.43 L62.06,278.18 L62.92,277.98 L63.78,277.83 L64.64,277.71 L65.50,277.61 L66.36,277.50 L67.22,277.40 L68.08,277.32 L68.94,277.22 L69.80,277.09 L70.66,276.84 L71.52,276.27 L72.38,275.49 L73.23,274.60 L74.09,273.73 L74.95,272.79 L75.81,271.75 L76.67,270.64 L77.53,269.51 L78.39,268.40 L79.25,267.30 L80.11,266.17 L80.97,264.97 L81.83,263.69 L82.69,262.33 L83.55,260.90 L84.41,259.41 L85.27,257.86 L86.13,256.29 L86.99,254.70 L87.85,253.12 L88.71,251.53 L89.57,249.96 L90.43,248.39 L91.28,246.84 L92.14,245.29 L93.00,243.76 L93.86,242.24 L94.72,240.71 L95.58,239.18 L96.44,237.66 L97.30,236.14 L98.16,234.63 L99.02,233.13 L99.88,231.63 L100.74,230.14 L101.60,228.66 L102.46,227.19 L103.32,225.73 L104.18,224.28 L105.04,222.85 L105.90,221.42 L106.76,220.01 L107.62,218.61 L108.47,217.22 L109.33,215.84 L110.19,214.48 L111.05,213.14 L111.91,211.81 L112.77,210.49 L113.63,209.20 L114.49,207.91 L115.35,206.65 L116.21,205.40 L117.07,204.17 L117.93,202.95 L118.79,201.75 L119.65,200.56 L120.51,199.39 L121.37,198.24 L122.23,197.10 L123.09,195.97 L123.95,194.85 L124.81,193.74 L125.66,192.65 L126.52,191.56 L127.38,190.48 L128.24,189.41 L129.10,188.35 L129.96,187.29 L130.82,186.24 L131.68,185.20 L132.54,184.16 L133.40,183.13 L134.26,182.10 L135.12,181.09 L135.98,180.08 L136.84,179.08 L137.70,178.09 L138.56,177.11 L139.42,176.15 L140.28,175.19 L141.14,174.26 L142.00,173.33 L142.85,172.43 L143.71,171.54 L144.57,170.67 L145.43,169.81 L146.29,168.98 L147.15,168.17 L148.01,167.37 L148.87,166.59 L149.73,165.83 L150.59,165.09 L151.45,164.37 L152.31,163.67 L153.17,162.98 L154.03,162.31 L154.89,161.66 L155.75,161.03 L156.61,160.40 L157.47,159.80 L158.33,159.20 L159.19,158.63 L160.04,158.06 L160.90,157.50 L161.76,156.96 L162.62,156.43 L163.48,155.91 L164.34,155.40 L165.20,154.90 L166.06,154.41 L166.92,153.93 L167.78,153.45 L168.64,152.99 L169.50,152.54 L170.36,152.09 L171.22,151.65 L172.08,151.21 L172.94,150.79 L173.80,150.37 L174.66,149.95 L175.52,149.54 L176.38,149.14 L177.23,148.74 L178.09,148.34 L178.95,147.95 L179.81,147.56 L180.67,147.17 L181.53,146.79 L182.39,146.41 L183.25,146.03 L184.11,145.65 L184.97,145.28 L185.83,144.90 L186.69,144.53 L187.55,144.16 L188.41,143.79 L189.27,143.42 L190.13,143.06 L190.99,142.69 L191.85,142.33 L192.71,141.97 L193.56,141.61 L194.42,141.25 L195.28,140.90 L196.14,140.55 L197.00,140.20 L197.86,139.86 L198.72,139.51 L199.58,139.17 L200.44,138.84 L201.30,138.50 L202.16,138.17 L203.02,137.84 L203.88,137.52 L204.74,137.20 L205.60,136.88 L206.46,136.56 L207.32,136.25 L208.18,135.94 L209.04,135.63 L209.90,135.33 L210.75,135.02 L211.61,134.72 L212.47,134.42 L213.33,134.13 L214.19,133.83 L215.05,133.54 L215.91,133.25 L216.77,132.96 L217.63,132.67 L218.49,132.38 L219.35,132.09 L220.21,131.81 L221.07,131.52 L221.93,131.24 L222.79,130.96 L223.65,130.67 L224.51,130.39 L225.37,130.11 L226.23,129.84 L227.09,129.56 L227.94,129.28 L228.80,129.01 L229.66,128.73 L230.52,128.46 L231.38,128.18 L232.24,127.91 L233.10,127.63 L233.96,127.36 L234.82,127.09 L235.68,126.82 L236.54,126.55 L237.40,126.28 L238.26,126.01 L239.12,125.74 L239.98,125.47 L240.84,125.20 L241.70,124.93 L242.56,124.67 L243.42,124.40 L244.28,124.14 L245.13,123.88 L245.99,123.61 L246.85,123.35 L247.71,123.09 L248.57,122.84 L249.43,122.58 L250.29,122.33 L251.15,122.07 L252.01,121.82 L252.87,121.57 L253.73,121.33 L254.59,121.08 L255.45,120.84 L256.31,120.60 L257.17,120.36 L258.03,120.12 L258.89,119.88 L259.75,119.65 L260.61,119.41 L261.47,119.18 L262.32,118.95 L263.18,118.73 L264.04,118.50 L264.90,118.27 L265.76,118.05 L266.62,117.83 L267.48,117.61 L268.34,117.39 L269.20,117.17 L270.06,116.95 L270.92,116.74 L271.78,116.52 L272.64,116.31 L273.50,116.10 L274.36,115.89 L275.22,115.68 L276.08,115.47 L276.94,115.26 L277.80,115.05 L278.66,114.85 L279.51,114.64 L280.37,114.44 L281.23,114.23 L282.09,114.03 L282.95,113.83 L283.81,113.63 L284.67,113.43 L285.53,113.22 L286.39,113.02 L287.25,112.82 L288.11,112.62 L288.97,112.42 L289.83,112.22 L290.69,112.02 L291.55,111.82 L292.41,111.63 L293.27,111.43 L294.13,111.23 L294.99,111.03 L295.85,110.83 L296.71,110.63 L297.56,110.43 L298.42,110.24 L299.28,110.04 L300.14,109.84 L301.00,109.65 L301.86,109.45 L302.72,109.25 L303.58,109.06 L304.44,108.86 L305.30,108.67 L306.16,108.48 L307.02,108.28 L307.88,108.09 L308.74,107.90 L309.60,107.71 L310.46,107.52 L311.32,107.33 L312.18,107.14 L313.04,106.96 L313.89,106.77 L314.75,106.59 L315.61,106.40 L316.47,106.22 L317.33,106.04 L318.19,105.86 L319.05,105.68 L319.91,105.51 L320.77,105.33 L321.63,105.15 L322.49,104.98 L323.35,104.81 L324.21,104.64 L325.07,104.46 L325.93,104.30 L326.79,104.13 L327.65,103.96 L328.51,103.79 L329.37,103.63 L330.23,103.46 L331.08,103.30 L331.94,103.14 L332.80,102.98 L333.66,102.82 L334.52,102.66 L335.38,102.50 L336.24,102.34 L337.10,102.19 L337.96,102.03 L338.82,101.88 L339.68,101.72 L340.54,101.57 L341.40,101.42 L342.26,101.26 L343.12,101.11 L343.98,100.96 L344.84,100.81 L345.70,100.67 L346.56,100.52 L347.42,100.37 L348.27,100.23 L349.13,100.09 L349.99,99.94 L350.85,99.80 L351.71,99.66 L352.57,99.52 L353.43,99.38 L354.29,99.24 L355.15,99.11 L356.01,98.97 L356.87,98.82 L357.73,98.69 L358.59,98.56 L359.45,98.43 L360.31,98.30 L361.17,98.17 L362.03,98.04 L362.89,97.91 L363.75,97.78 L364.61,97.65 L365.47,97.52 L366.32,97.38 L367.18,97.25 L368.04,97.11 L368.90,96.97 L369.76,96.82 L370.62,96.68 L371.48,96.52 L372.34,96.37 L373.20,96.21 L374.06,96.04 L374.92,95.87 L375.78,95.69 L376.64,95.50 L377.50,95.30 L378.36,95.10 L379.22,94.88 L380.08,94.65 L380.94,94.42 L381.80,94.17 L382.66,93.92 L383.51,93.67 L384.37,93.41 L385.23,93.16 L386.09,92.92 L386.95,92.68 L387.81,92.46 L388.67,92.25 L389.53,92.05 L390.39,91.87 L391.25,91.70 L392.11,91.54 L392.97,91.39 L393.83,91.25 L394.69,91.12 L395.55,90.99 L396.41,90.87 L397.27,90.75 L398.13,90.64 L398.99,90.52 L399.85,90.41 L400.70,90.30 L401.56,90.19 L402.42,90.08 L403.28,89.98 L404.14,89.87 L405.00,89.76 L405.86,89.65 L406.72,89.54 L407.58,89.43 L408.44,89.32 L409.30,89.21 L410.16,89.10 L411.02,88.98 L411.88,88.87 L412.74,88.75 L413.60,88.64 L414.46,88.53 L415.32,88.42 L416.18,88.30 L417.04,88.19 L417.89,88.08 L418.75,87.97 L419.61,87.85 L420.47,87.74 L421.33,87.63 L422.19,87.51 L423.05,87.40 L423.91,87.29 L424.77,87.17 L425.63,87.06 L426.49,86.95 L427.35,86.83 L428.21,86.72 L429.07,86.61 L429.93,86.49 L430.79,86.38 L431.65,86.26 L432.51,86.15 L433.37,86.04 L434.23,85.92 L435.08,85.81 L435.94,85.69 L436.80,85.58 L437.66,85.46 L438.52,85.35 L439.38,85.23 L440.24,85.11 L441.10,85.00 L441.96,84.88 L442.82,84.76 L443.68,84.65 L444.54,84.53 L445.40,84.41 L446.26,84.29 L447.12,84.17 L447.98,84.05 L448.84,83.93 L449.70,83.82 L450.56,83.70 L451.42,83.58 L452.27,83.46 L453.13,83.34 L453.99,83.22 L454.85,83.10 L455.71,82.99 L456.57,82.87 L457.43,82.76 L458.29,82.64 L459.15,82.53 L460.01,82.41 L460.87,82.30 L461.73,82.18 L462.59,82.07 L463.45,81.96 L464.31,81.85 L465.17,81.74 L466.03,81.63 L466.89,81.52 L467.75,81.41 L468.61,81.30 L469.46,81.19 L470.32,81.08 L471.18,80.97 L472.04,80.86 L472.90,80.75 L473.76,80.64 L474.62,80.53 L475.48,80.42 L476.34,80.30 L477.20,80.19 L478.06,80.08 L478.92,79.96 L479.78,79.85 L480.64,79.73 L481.50,79.62 L482.36,79.50 L483.22,79.38 L484.08,79.26 L484.94,79.14 L485.80,79.02 L486.65,78.91 L487.51,78.79 L488.37,78.67 L489.23,78.55 L490.09,78.42 L490.95,78.30 L491.81,78.18 L492.67,78.06 L493.53,77.94 L494.39,77.82 L495.25,77.70 L496.11,77.58 L496.97,77.46 L497.83,77.34 L498.69,77.22 L499.55,77.09 L500.41,76.97 L501.27,76.85 L502.13,76.73 L502.99,76.61 L503.84,76.50 L504.70,76.38 L505.56,76.26 L506.42,76.14 L507.28,76.02 L508.14,75.91 L509.00,75.79 L509.86,75.68 L510.72,75.57 L511.58,75.46 L512.44,75.35 L513.30,75.24 L514.16,75.14 L515.02,75.03 L515.88,74.93 L516.74,74.84 L517.60,74.75 L518.46,74.66 L519.32,74.57 L520.18,74.49 L521.03,74.42 L521.89,74.34 L522.75,74.27 L523.61,74.21 L524.47,74.15 L525.33,74.09 L526.19,74.04 L527.05,73.99 L527.91,73.95 L528.77,73.90" stroke="#f81238" stroke-width="2.3" clip-path="url(#cr2)"/>
<path d="M50.89,295.50 L51.75,294.40 L52.61,293.10 L53.47,290.87 L54.33,288.30 L55.19,285.92 L56.05,283.67 L56.90,282.03 L57.76,280.81 L58.62,279.83 L59.48,279.18 L60.34,278.76 L61.20,278.43 L62.06,278.18 L62.92,277.98 L63.78,277.83 L64.64,277.71 L65.50,277.61 L66.36,277.50 L67.22,277.40 L68.08,277.32 L68.94,277.22 L69.80,277.09 L70.66,276.84 L71.52,276.27 L72.38,275.49 L73.23,274.60 L74.09,273.73 L74.95,272.79 L75.81,271.75 L76.67,270.64 L77.53,269.51 L78.39,268.40 L79.25,267.30 L80.11,266.17 L80.97,264.97 L81.83,263.69 L82.69,262.33 L83.55,260.90 L84.41,259.41 L85.27,257.86 L86.13,256.29 L86.99,254.70 L87.85,253.12 L88.71,251.53 L89.57,249.96 L90.43,248.39 L91.28,246.84 L92.14,245.29 L93.00,243.76 L93.86,242.24 L94.72,240.71 L95.58,239.18 L96.44,237.66 L97.30,236.14 L98.16,234.63 L99.02,233.13 L99.88,231.63 L100.74,230.14 L101.60,228.66 L102.46,227.19 L103.32,225.73 L104.18,224.28 L105.04,222.85 L105.90,221.42 L106.76,220.01 L107.62,218.61 L108.47,217.22 L109.33,215.84 L110.19,214.48 L111.05,213.14 L111.91,211.81 L112.77,210.49 L113.63,209.20 L114.49,207.91 L115.35,206.65 L116.21,205.40 L117.07,204.17 L117.93,202.95 L118.79,201.75 L119.65,200.56 L120.51,199.39 L121.37,198.24 L122.23,197.10 L123.09,195.97 L123.95,194.85 L124.81,193.74 L125.66,192.65 L126.52,191.56 L127.38,190.48 L128.24,189.41 L129.10,188.35 L129.96,187.29 L130.82,186.24 L131.68,185.20 L132.54,184.16 L133.40,183.13 L134.26,182.10 L135.12,181.09 L135.98,180.08 L136.84,179.08 L137.70,178.09 L138.56,177.11 L139.42,176.15 L140.28,175.19 L141.14,174.26 L142.00,173.33 L142.85,172.43 L143.71,171.54 L144.57,170.67 L145.43,169.81 L146.29,168.98 L147.15,168.17 L148.01,167.37 L148.87,166.59 L149.73,165.83 L150.59,165.09 L151.45,164.37 L152.31,163.67 L153.17,162.98 L154.03,162.31 L154.89,161.66 L155.75,161.03 L156.61,160.40 L157.47,159.80 L158.33,159.20 L159.19,158.63 L160.04,158.06 L160.90,157.50 L161.76,156.96 L162.62,156.43 L163.48,155.91 L164.34,155.40 L165.20,154.90 L166.06,154.41 L166.92,153.93 L167.78,153.45 L168.64,152.99 L169.50,152.54 L170.36,152.09 L171.22,151.65 L172.08,151.21 L172.94,150.79 L173.80,150.37 L174.66,149.95 L175.52,149.54 L176.38,149.14 L177.23,148.74 L178.09,148.34 L178.95,147.95 L179.81,147.56 L180.67,147.17 L181.53,146.79 L182.39,146.41 L183.25,146.03 L184.11,145.65 L184.97,145.28 L185.83,144.90 L186.69,144.53 L187.55,144.16 L188.41,143.79 L189.27,143.42 L190.13,143.06 L190.99,142.69 L191.85,142.33 L192.71,141.97 L193.56,141.61 L194.42,141.25 L195.28,140.90 L196.14,140.55 L197.00,140.20 L197.86,139.86 L198.72,139.51 L199.58,139.17 L200.44,138.84 L201.30,138.50 L202.16,138.17 L203.02,137.84 L203.88,137.52 L204.74,137.20 L205.60,136.88 L206.46,136.56 L207.32,136.25 L208.18,135.94 L209.04,135.63 L209.90,135.33 L210.75,135.02 L211.61,134.72 L212.47,134.42 L213.33,134.13 L214.19,133.83 L215.05,133.54 L215.91,133.25 L216.77,132.96 L217.63,132.67 L218.49,132.38 L219.35,132.09 L220.21,131.81 L221.07,131.52 L221.93,131.24 L222.79,130.96 L223.65,130.67 L224.51,130.39 L225.37,130.11 L226.23,129.84 L227.09,129.56 L227.94,129.28 L228.80,129.01 L229.66,128.73 L230.52,128.46 L231.38,128.18 L232.24,127.91 L233.10,127.63 L233.96,127.36 L234.82,127.09 L235.68,126.82 L236.54,126.55 L237.40,126.28 L238.26,126.01 L239.12,125.74 L239.98,125.47 L240.84,125.20 L241.70,124.93 L242.56,124.67 L243.42,124.40 L244.28,124.14 L245.13,123.88 L245.99,123.61 L246.85,123.35 L247.71,123.09 L248.57,122.84 L249.43,122.58 L250.29,122.33 L251.15,122.07 L252.01,121.82 L252.87,121.57 L253.73,121.33 L254.59,121.08 L255.45,120.84 L256.31,120.60 L257.17,120.36 L258.03,120.12 L258.89,119.88 L259.75,119.65 L260.61,119.41 L261.47,119.18 L262.32,118.95 L263.18,118.73 L264.04,118.50 L264.90,118.27 L265.76,118.05 L266.62,117.83 L267.48,117.61 L268.34,117.39 L269.20,117.17 L270.06,116.95 L270.92,116.74 L271.78,116.52 L272.64,116.31 L273.50,116.10 L274.36,115.89 L275.22,115.68 L276.08,115.47 L276.94,115.26 L277.80,115.05 L278.66,114.85 L279.51,114.64 L280.37,114.44 L281.23,114.23 L282.09,114.03 L282.95,113.83 L283.81,113.63 L284.67,113.43 L285.53,113.22 L286.39,113.02 L287.25,112.82 L288.11,112.62 L288.97,112.42 L289.83,112.22 L290.69,112.02 L291.55,111.82 L292.41,111.63 L293.27,111.43 L294.13,111.23 L294.99,111.03 L295.85,110.83 L296.71,110.63 L297.56,110.43 L298.42,110.24 L299.28,110.04 L300.14,109.84 L301.00,109.65 L301.86,109.45 L302.72,109.25 L303.58,109.06 L304.44,108.86 L305.30,108.67 L306.16,108.48 L307.02,108.28 L307.88,108.09 L308.74,107.90 L309.60,107.71 L310.46,107.52 L311.32,107.33 L312.18,107.14 L313.04,106.96 L313.89,106.77 L314.75,106.59 L315.61,106.40 L316.47,106.22 L317.33,106.04 L318.19,105.86 L319.05,105.68 L319.91,105.51 L320.77,105.33 L321.63,105.15 L322.49,104.98 L323.35,104.81 L324.21,104.64 L325.07,104.46 L325.93,104.30 L326.79,104.13 L327.65,103.96 L328.51,103.79 L329.37,103.63 L330.23,103.46 L331.08,103.30 L331.94,103.14 L332.80,102.98 L333.66,102.82 L334.52,102.66 L335.38,102.50 L336.24,102.34 L337.10,102.19 L337.96,102.03 L338.82,101.88 L339.68,101.72 L340.54,101.57 L341.40,101.42 L342.26,101.26 L343.12,101.11 L343.98,100.96 L344.84,100.81 L345.70,100.67 L346.56,100.52 L347.42,100.37 L348.27,100.23 L349.13,100.09 L349.99,99.94 L350.85,99.80 L351.71,99.66 L352.57,99.52 L353.43,99.38 L354.29,99.24 L355.15,99.11 L356.01,98.97 L356.87,98.82 L357.73,98.69 L358.59,98.56 L359.45,98.43 L360.31,98.30 L361.17,98.17 L362.03,98.04 L362.89,97.91 L363.75,97.78 L364.61,97.65 L365.47,97.52 L366.32,97.38 L367.18,97.25 L368.04,97.11 L368.90,96.97 L369.76,96.82 L370.62,96.68 L371.48,96.52 L372.34,96.37 L373.20,96.21 L374.06,96.04 L374.92,95.87 L375.78,95.69 L376.64,95.50 L377.50,95.30 L378.36,95.10 L379.22,94.88 L380.08,94.65 L380.94,94.42 L381.80,94.17 L382.66,93.92 L383.51,93.67 L384.37,93.41 L385.23,93.16 L386.09,92.92 L386.95,92.68 L387.81,92.46 L388.67,92.25 L389.53,92.05 L390.39,91.87 L391.25,91.70 L392.11,91.54 L392.97,91.39 L393.83,91.25 L394.69,91.12 L395.55,90.99 L396.41,90.87 L397.27,90.75 L398.13,90.64 L398.99,90.52 L399.85,90.41 L400.70,90.30 L401.56,90.19 L402.42,90.08 L403.28,89.98 L404.14,89.87 L405.00,89.76 L405.86,89.65 L406.72,89.54 L407.58,89.43 L408.44,89.32 L409.30,89.21 L410.16,89.10 L411.02,88.98 L411.88,88.87 L412.74,88.75 L413.60,88.64 L414.46,88.53 L415.32,88.42 L416.18,88.30 L417.04,88.19 L417.89,88.08 L418.75,87.97 L419.61,87.85 L420.47,87.74 L421.33,87.63 L422.19,87.51 L423.05,87.40 L423.91,87.29 L424.77,87.17 L425.63,87.06 L426.49,86.95 L427.35,86.83 L428.21,86.72 L429.07,86.61 L429.93,86.49 L430.79,86.38 L431.65,86.26 L432.51,86.15 L433.37,86.04 L434.23,85.92 L435.08,85.81 L435.94,85.69 L436.80,85.58 L437.66,85.46 L438.52,85.35 L439.38,85.23 L440.24,85.11 L441.10,85.00 L441.96,84.88 L442.82,84.76 L443.68,84.65 L444.54,84.53 L445.40,84.41 L446.26,84.29 L447.12,84.17 L447.98,84.05 L448.84,83.93 L449.70,83.82 L450.56,83.70 L451.42,83.58 L452.27,83.46 L453.13,83.34 L453.99,83.22 L454.85,83.10 L455.71,82.99 L456.57,82.87 L457.43,82.76 L458.29,82.64 L459.15,82.53 L460.01,82.41 L460.87,82.30 L461.73,82.18 L462.59,82.07 L463.45,81.96 L464.31,81.85 L465.17,81.74 L466.03,81.63 L466.89,81.52 L467.75,81.41 L468.61,81.30 L469.46,81.19 L470.32,81.08 L471.18,80.97 L472.04,80.86 L472.90,80.75 L473.76,80.64 L474.62,80.53 L475.48,80.42 L476.34,80.30 L477.20,80.19 L478.06,80.08 L478.92,79.96 L479.78,79.85 L480.64,79.73 L481.50,79.62 L482.36,79.50 L483.22,79.38 L484.08,79.26 L484.94,79.14 L485.80,79.02 L486.65,78.91 L487.51,78.79 L488.37,78.67 L489.23,78.55 L490.09,78.42 L490.95,78.30 L491.81,78.18 L492.67,78.06 L493.53,77.94 L494.39,77.82 L495.25,77.70 L496.11,77.58 L496.97,77.46 L497.83,77.34 L498.69,77.22 L499.55,77.09 L500.41,76.97 L501.27,76.85 L502.13,76.73 L502.99,76.61 L503.84,76.50 L504.70,76.38 L505.56,76.26 L506.42,76.14 L507.28,76.02 L508.14,75.91 L509.00,75.79 L509.86,75.68 L510.72,75.57 L511.58,75.46 L512.44,75.35 L513.30,75.24 L514.16,75.14 L515.02,75.03 L515.88,74.93 L516.74,74.84 L517.60,74.75 L518.46,74.66 L519.32,74.57 L520.18,74.49 L521.03,74.42 L521.89,74.34 L522.75,74.27 L523.61,74.21 L524.47,74.15 L525.33,74.09 L526.19,74.04 L527.05,73.99 L527.91,73.95 L528.77,73.90" stroke="#6e4c26" stroke-width="2" clip-path="url(#cr)"/>
<path d="M47.45,290.70 L47.52,285.36 L47.62,278.60 L47.79,269.56 L47.97,262.35 L48.14,256.34 L48.48,246.69 L48.83,239.09 L49.17,232.83 L49.68,225.09 L50.20,218.73 L50.89,211.69 L51.75,204.47 L52.61,198.47 L53.47,193.32 L54.33,188.82 L56.05,181.22 L57.76,174.95 L59.48,169.61 L61.20,164.97 L64.64,157.16 L68.08,150.75 L71.52,145.31 L74.95,140.59 L78.39,136.42 L81.83,132.68 L85.27,129.29 L88.71,126.20 L92.14,123.35 L95.58,120.71 L99.02,118.25 L102.46,115.94 L105.90,113.78 L109.33,111.74 L112.77,109.81 L116.21,107.97 L119.65,106.23 L123.09,104.57 L126.52,102.98 L129.96,101.46 L133.40,100.00 L136.84,98.59 L140.28,97.24 L143.71,95.94 L147.15,94.68 L150.59,93.47 L154.03,92.29 L157.47,91.16 L160.90,90.06 L164.34,88.99 L167.78,87.95 L171.22,86.94 L174.66,85.96 L178.09,85.00 L181.53,84.07 L184.97,83.16 L188.41,82.28 L191.85,81.41 L195.28,80.57 L198.72,79.74 L202.16,78.94 L205.60,78.15 L209.04,77.38 L212.47,76.62 L215.91,75.88 L219.35,75.16 L222.79,74.45 L226.23,73.75 L229.66,73.07 L233.10,72.40 L236.54,71.74 L239.98,71.09 L243.42,70.46 L246.85,69.83 L250.29,69.22 L253.73,68.62 L257.17,68.03 L260.61,67.44 L264.04,66.87 L267.48,66.30 L270.92,65.75 L274.36,65.20 L277.80,64.66 L281.23,64.13 L284.67,63.60 L288.11,63.09 L291.55,62.58 L294.99,62.07 L298.42,61.58 L301.86,61.09 L305.30,60.61 L308.74,60.13 L312.18,59.66 L315.61,59.20 L319.05,58.74 L322.49,58.29 L325.93,57.85 L329.37,57.41 L332.80,56.97 L336.24,56.54 L339.68,56.12 L343.12,55.70 L346.56,55.28 L349.99,54.87 L353.43,54.46 L356.87,54.06 L360.31,53.67 L363.75,53.27 L367.18,52.89 L370.62,52.50 L374.06,52.12 L377.50,51.75 L380.94,51.37 L384.37,51.00 L387.81,50.64 L391.25,50.28 L394.69,49.92 L398.13,49.57 L401.56,49.22 L405.00,48.87 L408.44,48.53 L411.88,48.19 L415.32,47.85 L418.75,47.52 L422.19,47.18 L425.63,46.86 L429.07,46.53 L432.51,46.21 L435.94,45.89 L439.38,45.57 L442.82,45.26 L446.26,44.95 L449.70,44.64 L453.13,44.33 L456.57,44.03 L460.01,43.73 L463.45,43.43 L466.89,43.14 L470.32,42.84 L473.76,42.55 L477.20,42.26 L480.64,41.98 L484.08,41.69 L487.51,41.41 L490.95,41.13 L494.39,40.86 L497.83,40.58 L501.27,40.31 L504.70,40.04 L508.14,39.77 L511.58,39.50 L515.02,39.23 L518.46,38.97 L521.89,38.71 L525.33,38.45 L528.77,38.19" stroke="#000" stroke-width="2.1" stroke-dasharray="5.9 5.505" stroke-dashoffset="0.6" stroke-linecap="butt"/>
<path d="M47.45,295.50 L48.31,295.50 L49.17,295.50 L50.03,295.50 L50.89,295.50 L51.75,295.50 L52.61,295.50 L53.47,295.50 L54.33,295.50 L55.19,295.50 L56.05,295.50 L56.90,295.50 L57.76,295.50 L58.62,295.50 L59.48,295.50 L60.34,295.50 L61.20,295.50 L62.06,295.50 L62.92,295.50 L63.78,295.50 L64.64,295.50 L65.50,295.50 L66.36,295.50 L67.22,295.50 L68.08,295.50 L68.94,295.50 L69.80,295.50 L70.66,295.50 L71.52,295.50 L72.38,295.50 L73.23,295.50 L74.09,295.50 L74.95,295.50 L75.81,295.50 L76.67,295.50 L77.53,295.50 L78.39,295.50 L79.25,295.50 L80.11,295.50 L80.97,295.50 L81.83,295.50 L82.69,295.50 L83.55,295.50 L84.41,295.50 L85.27,295.50 L86.13,295.50 L86.99,295.50 L87.85,295.50 L88.71,295.50 L89.57,295.50 L90.43,295.50 L91.28,295.50 L92.14,295.50 L93.00,295.50 L93.86,295.50 L94.72,295.50 L95.58,295.50 L96.44,295.50 L97.30,295.50 L98.16,295.50 L99.02,295.50 L99.88,295.50 L100.74,295.50 L101.60,295.50 L102.46,295.50 L103.32,295.50 L104.18,295.50 L105.04,295.50 L105.90,295.50 L106.76,295.50 L107.62,295.50 L108.47,295.50 L109.33,295.50 L110.19,295.50 L111.05,295.50 L111.91,295.50 L112.77,295.50 L113.63,295.50 L114.49,295.50 L115.35,295.50 L116.21,295.50 L117.07,295.50 L117.93,295.50 L118.79,295.50 L119.65,295.50 L120.51,295.50 L121.37,295.50 L122.23,295.50 L123.09,295.50 L123.95,295.50 L124.81,295.50 L125.66,295.50 L126.52,295.50 L127.38,295.50 L128.24,295.50 L129.10,295.50 L129.96,295.50 L130.82,295.50 L131.68,295.50 L132.54,295.50 L133.40,295.50 L134.26,295.50 L135.12,295.50 L135.98,295.50 L136.84,295.50 L137.70,295.50 L138.56,295.50 L139.42,295.50 L140.28,295.50 L141.14,295.50 L142.00,295.50 L142.85,295.50 L143.71,295.50 L144.57,295.50 L145.43,295.50 L146.29,295.50 L147.15,295.50 L148.01,295.50 L148.87,295.50 L149.73,295.50 L150.59,295.50 L151.45,295.50 L152.31,295.50 L153.17,295.50 L154.03,295.50 L154.89,295.50 L155.75,295.50 L156.61,295.50 L157.47,295.50 L158.33,295.50 L159.19,295.50 L160.04,295.50 L160.90,295.50 L161.76,295.50 L162.62,295.50 L163.48,295.50 L164.34,295.50 L165.20,295.50 L166.06,295.50 L166.92,295.50 L167.78,295.50 L168.64,295.50 L169.50,295.50 L170.36,295.50 L171.22,295.50 L172.08,295.50 L172.94,295.49 L173.80,295.47 L174.66,295.45 L175.52,295.43 L176.38,295.40 L177.23,295.37 L178.09,295.33 L178.95,295.30 L179.81,295.26 L180.67,295.22 L181.53,295.18 L182.39,295.14 L183.25,295.10 L184.11,295.06 L184.97,295.02 L185.83,294.98 L186.69,294.94 L187.55,294.90 L188.41,294.86 L189.27,294.81 L190.13,294.77 L190.99,294.72 L191.85,294.67 L192.71,294.62 L193.56,294.57 L194.42,294.52 L195.28,294.47 L196.14,294.42 L197.00,294.37 L197.86,294.32 L198.72,294.26 L199.58,294.21 L200.44,294.16 L201.30,294.11 L202.16,294.06 L203.02,294.01 L203.88,293.96 L204.74,293.91 L205.60,293.86 L206.46,293.81 L207.32,293.76 L208.18,293.72 L209.04,293.67 L209.90,293.62 L210.75,293.57 L211.61,293.52 L212.47,293.47 L213.33,293.42 L214.19,293.37 L215.05,293.32 L215.91,293.27 L216.77,293.22 L217.63,293.17 L218.49,293.12 L219.35,293.07 L220.21,293.01 L221.07,292.96 L221.93,292.91 L222.79,292.85 L223.65,292.80 L224.51,292.74 L225.37,292.68 L226.23,292.62 L227.09,292.56 L227.94,292.50 L228.80,292.44 L229.66,292.38 L230.52,292.31 L231.38,292.24 L232.24,292.17 L233.10,292.09 L233.96,292.01 L234.82,291.92 L235.68,291.84 L236.54,291.76 L237.40,291.67 L238.26,291.59 L239.12,291.51 L239.98,291.44 L240.84,291.36 L241.70,291.30 L242.56,291.23 L243.42,291.18 L244.28,291.13 L245.13,291.08 L245.99,291.04 L246.85,291.00 L247.71,290.96 L248.57,290.92 L249.43,290.88 L250.29,290.85 L251.15,290.81 L252.01,290.78 L252.87,290.74 L253.73,290.71 L254.59,290.67 L255.45,290.64 L256.31,290.60 L257.17,290.57 L258.03,290.53 L258.89,290.49 L259.75,290.45 L260.61,290.41 L261.47,290.36 L262.32,290.32 L263.18,290.27 L264.04,290.22 L264.90,290.17 L265.76,290.12 L266.62,290.07 L267.48,290.01 L268.34,289.96 L269.20,289.91 L270.06,289.85 L270.92,289.80 L271.78,289.75 L272.64,289.69 L273.50,289.64 L274.36,289.59 L275.22,289.54 L276.08,289.50 L276.94,289.45 L277.80,289.41 L278.66,289.36 L279.51,289.32 L280.37,289.29 L281.23,289.25 L282.09,289.22 L282.95,289.19 L283.81,289.16 L284.67,289.14 L285.53,289.12 L286.39,289.10 L287.25,289.08 L288.11,289.06 L288.97,289.05 L289.83,289.03 L290.69,289.01 L291.55,289.00 L292.41,288.98 L293.27,288.97 L294.13,288.96 L294.99,288.94 L295.85,288.93 L296.71,288.92 L297.56,288.91 L298.42,288.90 L299.28,288.88 L300.14,288.87 L301.00,288.86 L301.86,288.85 L302.72,288.84 L303.58,288.83 L304.44,288.82 L305.30,288.81 L306.16,288.80 L307.02,288.79 L307.88,288.78 L308.74,288.76 L309.60,288.75 L310.46,288.74 L311.32,288.73 L312.18,288.72 L313.04,288.70 L313.89,288.69 L314.75,288.67 L315.61,288.66 L316.47,288.64 L317.33,288.63 L318.19,288.61 L319.05,288.60 L319.91,288.58 L320.77,288.57 L321.63,288.55 L322.49,288.53 L323.35,288.52 L324.21,288.50 L325.07,288.48 L325.93,288.46 L326.79,288.45 L327.65,288.43 L328.51,288.41 L329.37,288.39 L330.23,288.37 L331.08,288.36 L331.94,288.34 L332.80,288.32 L333.66,288.30 L334.52,288.28 L335.38,288.26 L336.24,288.25 L337.10,288.23 L337.96,288.21 L338.82,288.19 L339.68,288.17 L340.54,288.15 L341.40,288.14 L342.26,288.12 L343.12,288.10 L343.98,288.08 L344.84,288.06 L345.70,288.04 L346.56,288.03 L347.42,288.01 L348.27,287.99 L349.13,287.97 L349.99,287.96 L350.85,287.94 L351.71,287.92 L352.57,287.90 L353.43,287.89 L354.29,287.87 L355.15,287.85 L356.01,287.84 L356.87,287.82 L357.73,287.80 L358.59,287.79 L359.45,287.77 L360.31,287.76 L361.17,287.74 L362.03,287.72 L362.89,287.71 L363.75,287.69 L364.61,287.67 L365.47,287.66 L366.32,287.64 L367.18,287.62 L368.04,287.61 L368.90,287.59 L369.76,287.58 L370.62,287.56 L371.48,287.54 L372.34,287.53 L373.20,287.51 L374.06,287.50 L374.92,287.48 L375.78,287.46 L376.64,287.45 L377.50,287.43 L378.36,287.42 L379.22,287.40 L380.08,287.39 L380.94,287.38 L381.80,287.36 L382.66,287.35 L383.51,287.33 L384.37,287.32 L385.23,287.31 L386.09,287.29 L386.95,287.28 L387.81,287.27 L388.67,287.26 L389.53,287.24 L390.39,287.23 L391.25,287.22 L392.11,287.21 L392.97,287.20 L393.83,287.19 L394.69,287.18 L395.55,287.17 L396.41,287.15 L397.27,287.14 L398.13,287.13 L398.99,287.12 L399.85,287.11 L400.70,287.10 L401.56,287.09 L402.42,287.08 L403.28,287.07 L404.14,287.07 L405.00,287.06 L405.86,287.05 L406.72,287.04 L407.58,287.03 L408.44,287.02 L409.30,287.01 L410.16,287.00 L411.02,286.99 L411.88,286.98 L412.74,286.98 L413.60,286.97 L414.46,286.96 L415.32,286.95 L416.18,286.94 L417.04,286.94 L417.89,286.93 L418.75,286.92 L419.61,286.91 L420.47,286.90 L421.33,286.90 L422.19,286.89 L423.05,286.88 L423.91,286.87 L424.77,286.87 L425.63,286.86 L426.49,286.85 L427.35,286.85 L428.21,286.84 L429.07,286.83 L429.93,286.82 L430.79,286.82 L431.65,286.81 L432.51,286.80 L433.37,286.80 L434.23,286.79 L435.08,286.78 L435.94,286.78 L436.80,286.77 L437.66,286.76 L438.52,286.76 L439.38,286.75 L440.24,286.74 L441.10,286.74 L441.96,286.73 L442.82,286.72 L443.68,286.72 L444.54,286.71 L445.40,286.71 L446.26,286.70 L447.12,286.69 L447.98,286.69 L448.84,286.68 L449.70,286.68 L450.56,286.67 L451.42,286.67 L452.27,286.66 L453.13,286.66 L453.99,286.65 L454.85,286.65 L455.71,286.64 L456.57,286.64 L457.43,286.63 L458.29,286.63 L459.15,286.62 L460.01,286.62 L460.87,286.62 L461.73,286.61 L462.59,286.61 L463.45,286.60 L464.31,286.60 L465.17,286.60 L466.03,286.59 L466.89,286.59 L467.75,286.59 L468.61,286.58 L469.46,286.58 L470.32,286.58 L471.18,286.58 L472.04,286.57 L472.90,286.57 L473.76,286.57 L474.62,286.56 L475.48,286.56 L476.34,286.56 L477.20,286.56 L478.06,286.55 L478.92,286.55 L479.78,286.55 L480.64,286.54 L481.50,286.54 L482.36,286.54 L483.22,286.54 L484.08,286.53 L484.94,286.53 L485.80,286.53 L486.65,286.53 L487.51,286.52 L488.37,286.52 L489.23,286.52 L490.09,286.51 L490.95,286.51 L491.81,286.51 L492.67,286.51 L493.53,286.50 L494.39,286.50 L495.25,286.50 L496.11,286.49 L496.97,286.49 L497.83,286.49 L498.69,286.49 L499.55,286.48 L500.41,286.48 L501.27,286.48 L502.13,286.47 L502.99,286.47 L503.84,286.47 L504.70,286.46 L505.56,286.46 L506.42,286.46 L507.28,286.45 L508.14,286.45 L509.00,286.45 L509.86,286.45 L510.72,286.44 L511.58,286.44 L512.44,286.44 L513.30,286.43 L514.16,286.43 L515.02,286.43 L515.88,286.43 L516.74,286.42 L517.60,286.42 L518.46,286.42 L519.32,286.41 L520.18,286.41 L521.03,286.41 L521.89,286.40 L522.75,286.40 L523.61,286.40 L524.47,286.39 L525.33,286.39 L526.19,286.39 L527.05,286.39 L527.91,286.38 L528.77,286.38" stroke="#5a3aa0" stroke-width="2"/>
</g>
<rect x="54.5" y="10.5" width="87" height="82.5" fill="#fff" stroke="#a6a6a6" stroke-width="1"/>
<rect x="143" y="11" width="169" height="33" fill="#fff"/>
<g stroke-width="2.2" stroke-linecap="round">
<line x1="65" y1="17.2" x2="71" y2="17.2" stroke="#000"/>
<line x1="76.5" y1="17.2" x2="82.5" y2="17.2" stroke="#000"/>
<line x1="65" y1="31" x2="86.5" y2="31" stroke="#ff0000"/>
<line x1="65" y1="44.8" x2="86.5" y2="44.8" stroke="#ffc000"/>
<line x1="65" y1="58.6" x2="86.5" y2="58.6" stroke="#00b050"/>
<line x1="65" y1="72.4" x2="86.5" y2="72.4" stroke="#0070c0"/>
<line x1="65" y1="86.2" x2="86.5" y2="86.2" stroke="#7030a0"/>
</g>
<g class="lg">
<text x="89" y="19.5">N (ISO-834)</text>
<text x="89" y="33.3">15 mm</text>
<text x="89" y="47.1">50 mm</text>
<text x="89" y="60.9">100 mm</text>
<text x="89" y="74.7">150 mm</text>
<text x="89" y="88.5">200 mm</text>
</g>
<text class="ttl" x="160" y="33" font-size="16">Material 5, Sample 3</text>
<text class="ttl" transform="translate(261.3,330) scale(0.96,1)" font-size="16">Time [°C]</text>
<text class="ttl" transform="translate(14.2,211.3) rotate(-90) scale(1.09,1)" x="0" y="0" font-size="15">Temperature [°C]</text>
</svg>
</body></html>
